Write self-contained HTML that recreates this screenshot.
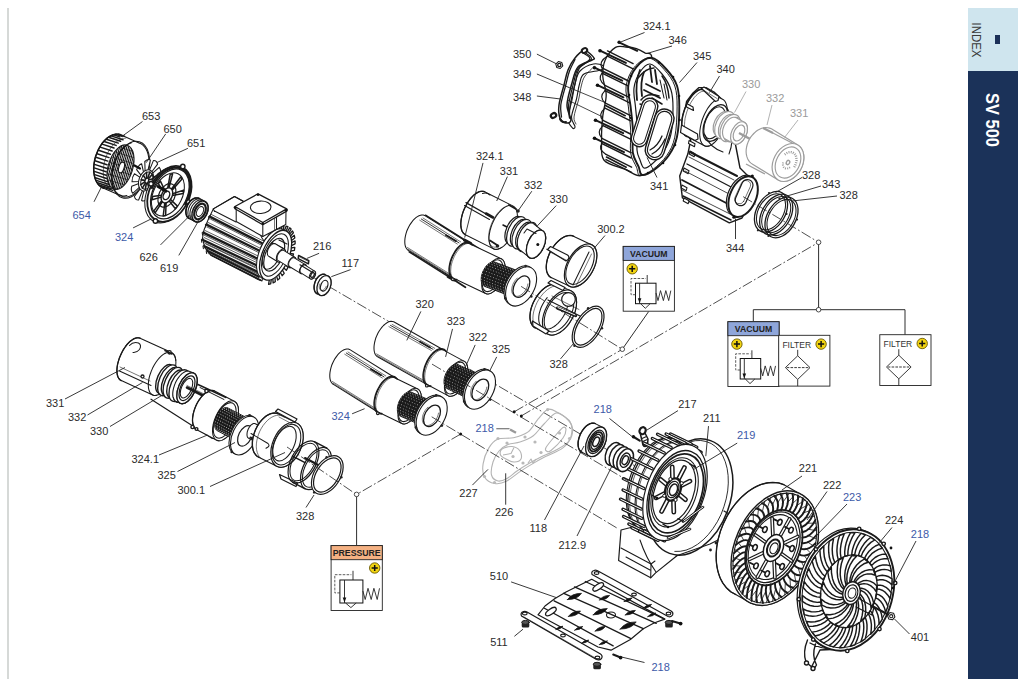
<!DOCTYPE html>
<html><head><meta charset="utf-8"><title>SV 500</title>
<style>
html,body{margin:0;padding:0;background:#fff;}
body{width:1024px;height:689px;overflow:hidden;position:relative;font-family:"Liberation Sans",sans-serif;}
#lb{position:absolute;left:6.5px;top:8px;width:2px;height:671px;background:#d6d9d7;}
#tab{position:absolute;left:968px;top:8px;width:50px;height:63px;background:#cfe5ee;}
#nav{position:absolute;left:968px;top:71px;width:50px;height:607.5px;background:#1b3259;}
svg{position:absolute;left:0;top:0;}
svg text{font-family:"Liberation Sans",sans-serif;}
.k{fill:none;stroke:#1a1a1a;stroke-width:1.05;stroke-linecap:round;stroke-linejoin:round;}
.w{fill:#fff;stroke:#1a1a1a;stroke-width:1.05;stroke-linejoin:round;}
.t{fill:none;stroke:#1a1a1a;stroke-width:0.6;stroke-linecap:round;}
.b{fill:none;stroke:#111;stroke-width:1.5;stroke-linecap:round;stroke-linejoin:round;}
.ld{fill:none;stroke:#222;stroke-width:0.95;}
.g{fill:none;stroke:#9c9c9c;stroke-width:1.15;stroke-linejoin:round;}
.gw{fill:#fff;stroke:#9c9c9c;stroke-width:1.15;stroke-linejoin:round;}
.ax{fill:none;stroke:#222;stroke-width:0.8;stroke-dasharray:10.5 2.4 1.8 2.4;}
.L{font-size:11px;fill:#2b2b2b;}
.B{font-size:11px;fill:#3d5aa8;}
.G{font-size:11px;fill:#9a9a9a;}
</style></head><body>
<div id="lb"></div><div id="tab"></div><div id="nav"></div>
<svg width="1024" height="689" viewBox="0 0 1024 689">
<!-- 00_sidebar.svg -->
<g>
<rect x="995" y="35" width="5" height="9" fill="#1b3058"/>
<text transform="translate(972,22.5) rotate(90)" font-size="13.5" fill="#3a3a3a" textLength="35" lengthAdjust="spacingAndGlyphs">INDEX</text>
<text transform="translate(985.5,93) rotate(90)" font-size="18.5" font-weight="bold" fill="#fff" textLength="54" lengthAdjust="spacingAndGlyphs">SV 500</text>
</g>

<!-- 10_symbols.py -->
<g>
<path class="ld" d="M648.7 311.5L622.3 349.2"/>
<path class="ld" d="M818.6 242.3V309.7M753.3 321.7V309.7H905V334.8"/>
<path class="ld" d="M356.6 494.4V545.6"/>
<rect x="623.2" y="246.4" width="51.2" height="64.8" fill="#fff" stroke="#222" stroke-width="0.9"/><rect x="623.2" y="246.4" width="51.2" height="14.0" fill="#8fa6da" stroke="#222" stroke-width="0.9"/><text x="648.8" y="256.8" font-size="8.8" font-weight="bold" fill="#222" text-anchor="middle" textLength="37.5" lengthAdjust="spacingAndGlyphs">VACUUM</text><circle cx="632.2" cy="268.8" r="5.2" fill="#f2d411" stroke="#6b5a00" stroke-width="0.9"/><path d="M629.1 268.8H635.3M632.2 265.7V271.9" stroke="#111" stroke-width="1.5" fill="none"/><rect x="635.5" y="283.2" width="20.5" height="20.5" fill="#fff" stroke="#111" stroke-width="1"/><path d="M639.6 283.2V303.7" stroke="#222" stroke-width="0.9"/><path d="M637.8 298.2L641.4 298.2L639.6 303.2Z" fill="#111"/><path d="M635.5 294.7H631.0Q631.0 294.7 631.0 291.4V278.5H645.8" fill="none" stroke="#333" stroke-width="0.8" stroke-dasharray="2.6 1.3"/><path d="M647.2 275.0V283.2" stroke="#222" stroke-width="0.9"/><path d="M656.0 293.0L658.0 300.6L660.5 290.6L663.4 300.6L665.8 290.6L668.7 300.6L670.8 290.6" fill="none" stroke="#222" stroke-width="0.9"/><path d="M640.6 303.7L645.3 308.3L650.1 303.7" fill="none" stroke="#222" stroke-width="0.9"/>
<rect x="727.9" y="321.7" width="51.2" height="64.8" fill="#fff" stroke="#222" stroke-width="0.9"/><rect x="727.9" y="321.7" width="51.2" height="14.0" fill="#8fa6da" stroke="#222" stroke-width="0.9"/><text x="753.5" y="332.1" font-size="8.8" font-weight="bold" fill="#222" text-anchor="middle" textLength="37.5" lengthAdjust="spacingAndGlyphs">VACUUM</text><circle cx="736.9" cy="344.1" r="5.2" fill="#f2d411" stroke="#6b5a00" stroke-width="0.9"/><path d="M733.8 344.1H740.0M736.9 341.0V347.2" stroke="#111" stroke-width="1.5" fill="none"/><rect x="740.2" y="358.5" width="20.5" height="20.5" fill="#fff" stroke="#111" stroke-width="1"/><path d="M744.3 358.5V379.0" stroke="#222" stroke-width="0.9"/><path d="M742.5 373.5L746.1 373.5L744.3 378.5Z" fill="#111"/><path d="M740.2 370.0H735.7Q735.7 370.0 735.7 366.7V353.8H750.4" fill="none" stroke="#333" stroke-width="0.8" stroke-dasharray="2.6 1.3"/><path d="M751.9 350.3V358.5" stroke="#222" stroke-width="0.9"/><path d="M760.7 368.3L762.7 375.9L765.2 365.9L768.1 375.9L770.5 365.9L773.4 375.9L775.5 365.9" fill="none" stroke="#222" stroke-width="0.9"/><path d="M745.3 379.0L750.0 383.6L754.8 379.0" fill="none" stroke="#222" stroke-width="0.9"/>
<rect x="778.7" y="335.3" width="51.2" height="50.8" fill="#fff" stroke="#222" stroke-width="0.9"/><text x="782.4" y="347.8" font-size="9" fill="#333" textLength="28.8" lengthAdjust="spacingAndGlyphs">FILTER</text><circle cx="821.1" cy="344.1" r="5.2" fill="#f2d411" stroke="#6b5a00" stroke-width="0.9"/><path d="M818.0 344.1H824.2M821.1 341.0V347.2" stroke="#111" stroke-width="1.5" fill="none"/><path d="M797.7 349.8V355.8M797.7 379.4V386.1" stroke="#222" stroke-width="0.9"/><path d="M797.7 355.8L810.0 367.6L797.7 379.4L785.4 367.6Z" fill="#fff" stroke="#222" stroke-width="0.9"/><path d="M786.7 367.6H808.7" stroke="#222" stroke-width="0.9" stroke-dasharray="2.6 1.2"/>
<rect x="879.8" y="334.7" width="51.2" height="50.8" fill="#fff" stroke="#222" stroke-width="0.9"/><text x="883.5" y="347.2" font-size="9" fill="#333" textLength="28.8" lengthAdjust="spacingAndGlyphs">FILTER</text><circle cx="922.2" cy="343.5" r="5.2" fill="#f2d411" stroke="#6b5a00" stroke-width="0.9"/><path d="M919.1 343.5H925.3M922.2 340.4V346.6" stroke="#111" stroke-width="1.5" fill="none"/><path d="M898.8 349.2V355.2M898.8 378.8V385.5" stroke="#222" stroke-width="0.9"/><path d="M898.8 355.2L911.1 367.0L898.8 378.8L886.5 367.0Z" fill="#fff" stroke="#222" stroke-width="0.9"/><path d="M887.8 367.0H909.8" stroke="#222" stroke-width="0.9" stroke-dasharray="2.6 1.2"/>
<rect x="331.1" y="545.6" width="51.2" height="64.9" fill="#fff" stroke="#222" stroke-width="0.9"/>
<rect x="331.1" y="545.6" width="51.2" height="14.1" fill="#f4b183" stroke="#222" stroke-width="0.9"/>
<text x="356.7" y="556.2" font-size="9" font-weight="bold" fill="#222" text-anchor="middle" textLength="48" lengthAdjust="spacingAndGlyphs">PRESSURE</text>
<circle cx="374.7" cy="568.0" r="5.2" fill="#f2d411" stroke="#6b5a00" stroke-width="0.9"/><path d="M371.6 568.0H377.8M374.7 564.9V571.1" stroke="#111" stroke-width="1.5" fill="none"/>
<rect x="339.9" y="580.0" width="23.0" height="23.0" fill="#fff" stroke="#111" stroke-width="1"/><path d="M344.5 580.0V603.0" stroke="#222" stroke-width="0.9"/><path d="M342.7 597.5L346.3 597.5L344.5 602.5Z" fill="#111"/><path d="M339.9 592.9H334.8Q334.8 592.9 334.8 589.2V574.7H351.4" fill="none" stroke="#333" stroke-width="0.8" stroke-dasharray="2.6 1.3"/><path d="M353.0 570.8V580.0" stroke="#222" stroke-width="0.9"/><path d="M362.9 591.0L365.2 599.5L368.0 588.3L371.2 599.5L373.9 588.3L377.2 599.5L379.5 588.3" fill="none" stroke="#222" stroke-width="0.9"/><path d="M345.6 603.0L350.9 607.6L356.2 603.0" fill="none" stroke="#222" stroke-width="0.9"/>
<circle cx="622.3" cy="349.2" r="2.3" fill="#fff" stroke="#222" stroke-width="0.8"/><circle cx="818.6" cy="242.3" r="2.3" fill="#fff" stroke="#222" stroke-width="0.8"/><circle cx="818.6" cy="309.7" r="2.3" fill="#fff" stroke="#222" stroke-width="0.8"/><circle cx="356.6" cy="494.4" r="2.3" fill="#fff" stroke="#222" stroke-width="0.8"/>
</g>
<!-- 15_axes.py -->
<g>
<path class="ax" d="M313.0 277.2L393.0 324.0"/>
<path class="ax" d="M469.5 369.1L583.0 435.6"/>
<path class="ax" d="M604.0 447.8L616.0 454.8"/>
<path class="ax" d="M633.0 464.8L650.0 474.8"/>
<path class="ax" d="M700.0 504.0L760.0 539.2"/>
<path class="ax" d="M790.0 556.7L846.0 589.5"/>
<path class="ax" d="M546.0 249.0L562.0 257.0"/>
<path class="ax" d="M514.2 411.8L620.4 350.4"/>
<path class="ax" d="M521.3 415.9L816.6 243.5"/>
<path class="ax" d="M460.6 434.1L358.6 493.3"/>
</g>
<!-- 20_fan.py -->
<g>
<path class="w" d="M120.1 134.6L117.9 134.2L115.6 134.2L113.2 134.8L110.9 135.7L108.5 137.1L106.2 139.0L104.0 141.2L101.9 143.7L100.0 146.6L98.3 149.7L96.9 153.0L95.6 156.4L94.7 160.0L94.1 163.5L93.7 167.1L93.7 170.5L94.0 173.8L94.6 176.8L95.5 179.6L96.7 182.1L98.1 184.2L99.8 186.0L101.7 187.3L103.7 188.2L122.6 196.5L124.8 196.9L127.1 196.9L129.5 196.3L131.8 195.4L134.2 194.0L136.5 192.1L138.7 189.9L140.8 187.4L142.7 184.5L144.4 181.4L145.8 178.1L147.1 174.7L148.0 171.1L148.6 167.6L149.0 164.0L149.0 160.6L148.7 157.3L148.1 154.3L147.2 151.5L146.0 149.0L144.6 146.9L142.9 145.1L141.0 143.8L139.0 142.9Z" />
<path class="b" d="M120.1 134.6L117.7 134.2L115.2 134.3L112.6 135.0L110.0 136.2L107.4 137.9L105.0 140.1L102.6 142.7L100.5 145.8L98.6 149.1L97.0 152.7L95.6 156.4L94.6 160.3L94.0 164.2L93.7 168.0L93.8 171.7L94.3 175.2L95.1 178.4L96.2 181.2L97.7 183.7L99.5 185.7L101.5 187.2L103.7 188.2" />
<path class="k" d="M118.2 134.2L124.4 136.3" style="stroke-width:1.5"/>
<path class="k" d="M115.9 134.3L122.1 136.4" style="stroke-width:1.5"/>
<path class="k" d="M113.5 134.8L119.7 136.9" style="stroke-width:1.5"/>
<path class="k" d="M111.1 135.9L123.0 139.8" style="stroke-width:1.5"/>
<path class="k" d="M108.7 137.3L120.6 141.2" style="stroke-width:1.5"/>
<path class="k" d="M106.4 139.2L118.3 143.1" style="stroke-width:1.5"/>
<path class="k" d="M104.2 141.5L116.1 145.4" style="stroke-width:1.5"/>
<path class="k" d="M102.1 144.1L114.0 148.0" style="stroke-width:1.5"/>
<path class="k" d="M100.2 147.1L112.1 151.0" style="stroke-width:1.5"/>
<path class="k" d="M98.5 150.3L110.4 154.2" style="stroke-width:1.5"/>
<path class="k" d="M97.1 153.7L109.0 157.6" style="stroke-width:1.5"/>
<path class="k" d="M95.9 157.2L107.8 161.1" style="stroke-width:1.5"/>
<path class="k" d="M95.0 160.8L107.0 164.7" style="stroke-width:1.5"/>
<path class="k" d="M94.5 164.4L106.4 168.3" style="stroke-width:1.5"/>
<path class="k" d="M94.2 167.9L106.1 171.8" style="stroke-width:1.5"/>
<path class="k" d="M94.3 171.4L106.2 175.3" style="stroke-width:1.5"/>
<path class="k" d="M94.7 174.6L106.6 178.5" style="stroke-width:1.5"/>
<path class="k" d="M95.3 177.7L107.3 181.6" style="stroke-width:1.5"/>
<path class="k" d="M96.3 180.4L108.3 184.3" style="stroke-width:1.5"/>
<path class="k" d="M97.6 182.8L109.5 186.7" style="stroke-width:1.5"/>
<path class="k" d="M99.1 184.9L111.1 188.8" style="stroke-width:1.5"/>
<path class="k" d="M100.9 186.5L112.8 190.4" style="stroke-width:1.5"/>
<path class="t" d="M125.9 138.1L123.5 138.4L121.1 139.1L118.6 140.3L116.2 142.0L113.9 144.1L111.7 146.6L109.7 149.5L107.9 152.6L106.4 156.0L105.1 159.6L104.2 163.2L103.6 166.9L103.3 170.5L103.3 174.0L103.7 177.3L104.5 180.4L105.5 183.1L106.9 185.5L108.5 187.5L110.4 189.0" />
<ellipse class="k" cx="130.8" cy="169.7" rx="29.3" ry="17.6" transform="rotate(-73.0 130.8 169.7)" />
<path class="k" d="M131.5 142.8L129.0 143.7L126.5 145.1L124.1 147.1L121.8 149.4L119.6 152.2L117.6 155.4L115.9 158.8L114.4 162.4L113.2 166.1L112.4 170.0L111.9 173.8L111.7 177.5L111.9 181.0L112.5 184.3L113.4 187.3L114.6 190.0L116.1 192.2L117.9 193.9L119.9 195.1L122.1 195.8L124.5 196.0L126.9 195.6" />
<clipPath id="fcg"><ellipse cx="120.5" cy="167.2" rx="23" ry="12.3" transform="rotate(-73 120.5 167.2)"/></clipPath>
<g clip-path="url(#fcg)"><path d="M96.0 195.0L112.0 135.0M97.8 195.0L113.8 135.0M99.6 195.0L115.6 135.0M101.4 195.0L117.4 135.0M103.2 195.0L119.2 135.0M105.0 195.0L121.0 135.0M106.8 195.0L122.8 135.0M108.6 195.0L124.6 135.0M110.4 195.0L126.4 135.0M112.2 195.0L128.2 135.0M114.0 195.0L130.0 135.0M115.8 195.0L131.8 135.0M117.6 195.0L133.6 135.0M119.4 195.0L135.4 135.0M121.2 195.0L137.2 135.0M123.0 195.0L139.0 135.0M124.8 195.0L140.8 135.0M126.6 195.0L142.6 135.0M128.4 195.0L144.4 135.0M130.2 195.0L146.2 135.0M132.0 195.0L148.0 135.0M133.8 195.0L149.8 135.0M135.6 195.0L151.6 135.0M137.4 195.0L153.4 135.0M139.2 195.0L155.2 135.0M141.0 195.0L157.0 135.0M142.8 195.0L158.8 135.0M144.6 195.0L160.6 135.0M146.4 195.0L162.4 135.0M148.2 195.0L164.2 135.0" stroke="#111" stroke-width="1.05" fill="none"/>
<path d="M95.0 140.0L145.0 155.0M95.0 146.0L145.0 161.0M95.0 152.0L145.0 167.0M95.0 158.0L145.0 173.0M95.0 164.0L145.0 179.0M95.0 170.0L145.0 185.0M95.0 176.0L145.0 191.0M95.0 182.0L145.0 197.0M95.0 188.0L145.0 203.0M95.0 194.0L145.0 209.0" stroke="#111" stroke-width="0.6" fill="none"/></g>
<ellipse class="k" cx="120.5" cy="167.2" rx="23.0" ry="12.3" transform="rotate(-73.0 120.5 167.2)" />
<ellipse class="w" cx="121.5" cy="167.5" rx="5.5" ry="2.6" transform="rotate(-73.0 121.5 167.5)" />
<path class="w" d="M149.4 170.4L153.4 160.6Q156.7 160.3 157.6 164.1L151.6 172.0Z" />
<path class="w" d="M152.4 173.4L159.2 167.3Q161.4 169.8 160.3 174.3L153.1 177.0Z" />
<path class="w" d="M153.0 179.0L160.0 178.8Q160.2 183.3 157.6 186.9L151.8 183.2Z" />
<path class="w" d="M150.9 185.2L155.4 191.0Q153.5 195.7 150.4 196.9L148.4 188.3Z" />
<path class="w" d="M146.9 189.4L147.2 199.1Q144.0 202.1 141.6 200.5L144.0 190.4Z" />
<path class="w" d="M142.6 190.2L138.6 200.0Q135.3 200.3 134.4 196.5L140.4 188.6Z" />
<path class="w" d="M139.6 187.2L132.8 193.3Q130.6 190.8 131.7 186.3L138.9 183.6Z" />
<path class="w" d="M139.0 181.6L132.0 181.8Q131.8 177.3 134.4 173.7L140.2 177.4Z" />
<path class="w" d="M141.1 175.4L136.6 169.6Q138.5 164.9 141.6 163.7L143.6 172.3Z" />
<path class="w" d="M145.1 171.2L144.8 161.5Q148.0 158.5 150.4 160.1L148.0 170.2Z" />
<ellipse class="w" cx="146.0" cy="180.3" rx="11.0" ry="7.0" transform="rotate(-70.0 146.0 180.3)" />
<ellipse class="k" cx="146.8" cy="180.6" rx="9.0" ry="5.6" transform="rotate(-70.0 146.8 180.6)" />
<path class="k" d="M147.7 178.3L149.9 172.1" style="stroke-width:1.6"/>
<path class="k" d="M148.3 178.9L152.2 174.5" style="stroke-width:1.6"/>
<path class="k" d="M148.5 180.1L152.9 178.8" style="stroke-width:1.6"/>
<path class="k" d="M148.2 181.5L151.6 183.7" style="stroke-width:1.6"/>
<path class="k" d="M147.4 182.6L148.8 187.6" style="stroke-width:1.6"/>
<path class="k" d="M146.4 183.0L145.3 189.3" style="stroke-width:1.6"/>
<path class="k" d="M145.6 182.7L142.4 188.2" style="stroke-width:1.6"/>
<path class="k" d="M145.1 181.7L140.8 184.7" style="stroke-width:1.6"/>
<path class="k" d="M145.2 180.4L141.2 179.9" style="stroke-width:1.6"/>
<path class="k" d="M145.8 179.1L143.3 175.3" style="stroke-width:1.6"/>
<path class="k" d="M146.7 178.3L146.5 172.4" style="stroke-width:1.6"/>
<ellipse class="w" cx="146.8" cy="180.6" rx="2.5" ry="1.6" transform="rotate(-70.0 146.8 180.6)" />
<path class="b" d="M134.5 165.5L140.0 168.5" style="stroke-width:2.2"/>
<ellipse class="w" cx="166.9" cy="194.9" rx="29.5" ry="20.0" transform="rotate(-64.0 166.9 194.9)" />
<ellipse class="w" cx="169.4" cy="193.9" rx="29.5" ry="20.0" transform="rotate(-64.0 169.4 193.9)" style="stroke-width:1.8"/>
<path class="k" d="M151.9 188.0L153.6 184.3L155.7 180.9L158.0 177.7L160.6 174.9L163.4 172.4L166.3 170.4L169.3 168.9L172.3 167.9L175.2 167.5L178.0 167.6L180.6 168.2L183.0 169.4L185.2 171.1L187.0 173.2L188.4 175.8L189.5 178.8L190.1 182.0L190.3 185.6L190.1 189.3L189.5 193.1L188.4 196.9L187.0 200.6L185.2 204.2" style="stroke-width:2.2"/>
<ellipse class="k" cx="169.9" cy="193.9" rx="26.5" ry="17.2" transform="rotate(-64.0 169.9 193.9)" style="stroke-width:1.3"/>
<ellipse class="k" cx="167.9" cy="194.4" rx="23.0" ry="14.5" transform="rotate(-64.0 167.9 194.4)" />
<circle cx="182.8" cy="166.5" r="2.2" class="w" style="stroke-width:1.4"/>
<circle cx="188.7" cy="202.1" r="2.2" class="w" style="stroke-width:1.4"/>
<circle cx="155.4" cy="221.0" r="2.2" class="w" style="stroke-width:1.4"/>
<circle cx="151.0" cy="183.7" r="2.2" class="w" style="stroke-width:1.4"/>
<path class="k" d="M171.5 189.0L180.7 177.0L182.0 178.9L172.1 190.2" style="stroke-width:1.5"/>
<path class="k" d="M172.5 193.7L183.7 190.1L183.2 193.4L172.2 195.5" style="stroke-width:1.5"/>
<path class="k" d="M170.3 199.4L177.5 206.1L175.4 208.7L169.1 200.8" style="stroke-width:1.5"/>
<path class="k" d="M166.1 202.7L165.6 215.5L163.2 216.0L164.8 202.9" style="stroke-width:1.5"/>
<path class="k" d="M162.3 201.8L155.1 212.8L153.8 210.9L161.7 200.6" style="stroke-width:1.5"/>
<path class="k" d="M161.3 197.1L152.1 199.7L152.6 196.4L161.6 195.3" style="stroke-width:1.5"/>
<path class="k" d="M163.5 191.4L158.3 183.7L160.4 181.1L164.7 190.0" style="stroke-width:1.5"/>
<path class="k" d="M167.7 188.1L170.2 174.3L172.6 173.8L169.0 187.9" style="stroke-width:1.5"/>
<ellipse class="k" cx="166.9" cy="195.4" rx="12.5" ry="8.0" transform="rotate(-64.0 166.9 195.4)" style="stroke-width:1.2"/>
<ellipse class="w" cx="166.9" cy="195.4" rx="8.0" ry="5.2" transform="rotate(-64.0 166.9 195.4)" style="stroke-width:1.4"/>
<ellipse class="k" cx="166.4" cy="195.4" rx="4.5" ry="3.0" transform="rotate(-64.0 166.4 195.4)" style="stroke-width:1.4"/>
<path class="b" d="M158.0 186.5L166.0 191.0" style="stroke-width:3"/>
<path class="w" d="M198.9 198.3L198.0 198.0L197.1 197.9L196.1 197.9L195.0 198.1L194.0 198.5L192.9 199.1L191.9 199.8L190.9 200.6L189.9 201.6L189.0 202.7L188.2 204.0L187.5 205.2L186.9 206.6L186.5 208.0L186.1 209.3L185.9 210.7L185.9 212.0L186.0 213.3L186.2 214.5L186.5 215.5L187.0 216.5L187.6 217.3L188.3 218.0L189.1 218.5L195.1 221.6L196.0 221.9L196.9 222.0L197.9 222.0L199.0 221.8L200.0 221.4L201.1 220.8L202.1 220.1L203.1 219.3L204.1 218.3L205.0 217.2L205.8 215.9L206.5 214.7L207.1 213.3L207.5 211.9L207.9 210.6L208.1 209.2L208.1 207.9L208.0 206.6L207.8 205.4L207.5 204.4L207.0 203.4L206.4 202.6L205.7 201.9L204.9 201.4Z" />
<path class="b" d="M198.9 198.3L197.9 198.0L196.9 197.9L195.8 197.9L194.6 198.2L193.5 198.7L192.3 199.4L191.2 200.3L190.2 201.3L189.2 202.5L188.3 203.8L187.5 205.2L186.9 206.7L186.4 208.2L186.1 209.7L185.9 211.2L185.9 212.6L186.1 213.9L186.4 215.2L186.8 216.2L187.5 217.2L188.2 217.9L189.1 218.5" />
<path class="k" d="M200.9 199.3L199.9 199.0L198.9 198.9L197.8 198.9L196.6 199.2L195.5 199.7L194.3 200.4L193.2 201.3L192.2 202.3L191.2 203.5L190.3 204.8L189.5 206.2L188.9 207.7L188.4 209.2L188.1 210.7L187.9 212.2L187.9 213.6L188.1 214.9L188.4 216.2L188.8 217.2L189.5 218.2L190.2 218.9L191.1 219.5" />
<path class="k" d="M202.9 200.3L201.9 200.0L200.9 199.9L199.8 199.9L198.6 200.2L197.5 200.7L196.3 201.4L195.2 202.3L194.2 203.3L193.2 204.5L192.3 205.8L191.5 207.2L190.9 208.7L190.4 210.2L190.1 211.7L189.9 213.2L189.9 214.6L190.1 215.9L190.4 217.2L190.8 218.2L191.5 219.2L192.2 219.9L193.1 220.5" />
<ellipse class="w" cx="200.0" cy="211.5" rx="11.2" ry="7.2" transform="rotate(-64.0 200.0 211.5)" style="stroke-width:1.6"/>
<ellipse class="k" cx="200.0" cy="211.5" rx="8.3" ry="5.1" transform="rotate(-64.0 200.0 211.5)" style="stroke-width:2.2"/>
<ellipse class="k" cx="200.0" cy="211.5" rx="5.2" ry="3.1" transform="rotate(-64.0 200.0 211.5)" />
</g>
<!-- 21_motor.py -->
<g>
<path class="w" d="M213.3 208.9L234.5 196.5L243.0 201.0L262.0 238.0L268.0 247.0L262.0 281.0L258.0 279.5L211.0 255.2L204.5 247.0L202.5 238.0L204.0 230.0L208.0 220.0Z" />
<path class="k" d="M213.3 208.9L234.5 196.5L243.5 201.5" />
<path class="k" d="M214.5 211L236 222" />
<path class="k" d="M213.3 208.9L214.5 211.5" />
<path class="k" d="M210.2 216.9L263.6 244.0" style="stroke-width:2.3"/>
<path class="t" d="M211.4 214.5L264.2 241.4" style="stroke-width:0.7"/>
<path class="t" d="M210.6 219.2L263.6 246.2" style="stroke-width:0.7"/>
<path class="k" d="M207.0 224.9L262.0 252.0" style="stroke-width:2.3"/>
<path class="t" d="M208.2 222.5L262.6 249.4" style="stroke-width:0.7"/>
<path class="t" d="M207.4 227.2L262.0 254.2" style="stroke-width:0.7"/>
<path class="k" d="M203.8 232.9L260.4 260.0" style="stroke-width:2.3"/>
<path class="t" d="M205.0 230.5L261.0 257.4" style="stroke-width:0.7"/>
<path class="t" d="M204.2 235.2L260.4 262.2" style="stroke-width:0.7"/>
<path class="k" d="M203.0 240.0L258.8 266.4" style="stroke-width:2.3"/>
<path class="t" d="M204.2 237.6L259.4 263.8" style="stroke-width:0.7"/>
<path class="t" d="M203.4 242.3L258.8 268.6" style="stroke-width:0.7"/>
<path class="k" d="M204.6 246.4L258.0 272.0" style="stroke-width:2.3"/>
<path class="t" d="M205.8 244.0L258.6 269.4" style="stroke-width:0.7"/>
<path class="t" d="M205.0 248.7L258.0 274.2" style="stroke-width:0.7"/>
<path class="k" d="M207.8 251.2L258.8 276.7" style="stroke-width:2.3"/>
<path class="t" d="M209.0 248.8L259.4 274.1" style="stroke-width:0.7"/>
<path class="t" d="M208.2 253.5L258.8 278.9" style="stroke-width:0.7"/>
<path class="k" d="M211.0 255.2L260.4 280.0" style="stroke-width:1.4"/>
<path class="k" d="M210.2 215.4l-1.6 1.2l0.4 2.6" />
<path class="k" d="M207.0 223.4l-1.6 1.2l0.4 2.6" />
<path class="k" d="M203.8 231.4l-1.6 1.2l0.4 2.6" />
<path class="k" d="M203.0 238.5l-1.6 1.2l0.4 2.6" />
<path class="k" d="M204.6 244.9l-1.6 1.2l0.4 2.6" />
<path class="k" d="M207.8 249.7l-1.6 1.2l0.4 2.6" />
<path class="w" d="M264.4 249.4L261.0 247.3L262.5 244.2L265.9 246.2" style="stroke-width:1.3"/>
<path class="w" d="M267.1 244.2L264.4 240.9L266.2 238.2L269.0 241.3" style="stroke-width:1.3"/>
<path class="w" d="M270.3 239.5L268.4 235.4L270.5 233.1L272.4 237.1" style="stroke-width:1.3"/>
<path class="w" d="M273.8 235.7L272.9 230.9L275.0 229.2L276.0 234.0" style="stroke-width:1.3"/>
<path class="w" d="M277.5 233.0L277.5 227.8L279.6 226.8L279.6 232.0" style="stroke-width:1.3"/>
<path class="w" d="M281.0 231.5L282.0 226.2L284.0 226.0L282.9 231.2" style="stroke-width:1.3"/>
<path class="w" d="M284.2 231.3L286.1 226.2L287.9 226.7L285.8 231.9" style="stroke-width:1.3"/>
<path class="w" d="M286.9 232.5L289.7 227.8L291.1 229.1L288.2 233.8" style="stroke-width:1.3"/>
<path class="w" d="M289.0 234.9L292.4 230.9L293.4 232.8L289.9 236.8" style="stroke-width:1.3"/>
<path class="w" d="M290.4 238.4L294.3 235.3L294.8 237.9L290.8 240.9" style="stroke-width:1.3"/>
<path class="w" d="M290.9 242.8L295.1 240.9L295.1 243.8L290.8 245.8" style="stroke-width:1.3"/>
<path class="w" d="M290.6 248.0L294.8 247.3L294.4 250.4L290.1 251.2" style="stroke-width:1.3"/>
<path class="w" d="M289.5 253.5L293.5 254.0L292.5 257.3L288.5 256.9" style="stroke-width:1.3"/>
<path class="w" d="M287.6 259.1L291.2 260.9L289.8 264.1L286.2 262.4" style="stroke-width:1.3"/>
<path class="w" d="M285.1 264.5L288.0 267.4L286.3 270.3L283.3 267.5" style="stroke-width:1.3"/>
<path class="w" d="M282.0 269.4L284.2 273.3L282.2 275.7L280.0 272.0" style="stroke-width:1.3"/>
<path class="w" d="M278.5 273.5L279.8 278.2L277.7 280.0L276.4 275.5" style="stroke-width:1.3"/>
<path class="w" d="M274.9 276.6L275.3 281.7L273.1 282.9L272.8 277.9" style="stroke-width:1.3"/>
<path class="w" d="M271.4 278.5L270.7 283.9L268.6 284.3L269.4 279.1" style="stroke-width:1.3"/>
<ellipse class="w" cx="272.6" cy="253.8" rx="26.5" ry="13.3" transform="rotate(-66.8 272.6 253.8)" />
<ellipse class="w" cx="275.6" cy="255.2" rx="26.5" ry="13.3" transform="rotate(-66.8 275.6 255.2)" style="stroke-width:1.3"/>
<ellipse class="k" cx="275.0" cy="255.0" rx="22.5" ry="11.0" transform="rotate(-66.8 275.0 255.0)" />
<ellipse class="k" cx="274.2" cy="254.7" rx="17.5" ry="8.6" transform="rotate(-66.8 274.2 254.7)" style="stroke-width:1.2"/>
<path class="k" d="M279.5 256.9L278.5 259.0L277.3 261.0L276.1 262.9L274.8 264.6L273.4 266.0L272.0 267.2L270.6 268.2L269.2 268.8L267.9 269.1L266.7 269.2L265.6 268.9L264.6 268.3L263.8 267.4L263.1 266.2L262.7 264.8L262.4 263.1L262.3 261.2L262.4 259.2L262.7 257.1L263.2 254.9L263.9 252.7L264.7 250.5" />
<path class="k" d="M272.0 243.0L283.0 248.5" style="stroke-width:1.6"/>
<path class="k" d="M279.0 240.0L287.0 244.0" style="stroke-width:1.2"/>
<path class="w" d="M236.2 208.0L236.2 221.5L262.8 236.5L285.8 224.5L286.0 210.0L262.8 224.0Z" />
<path class="k" d="M262.8 224.0L262.8 236.5" />
<path class="k" d="M276.5 217.5L276.5 229.5" />
<path class="t" d="M274.5 218.5L274.5 230.5" />
<path class="w" d="M234.9 208.7L258.0 196.0L286.7 211.1L262.8 224.7Z" style="stroke-width:1.3"/>
<path class="w" d="M234.9 206.5L258.0 193.8L286.7 208.9L262.8 222.5Z" style="stroke-width:1.3"/>
<circle cx="234.9" cy="207.5" r="1.2" fill="#111"/>
<circle cx="258.0" cy="194.8" r="1.2" fill="#111"/>
<circle cx="286.7" cy="209.9" r="1.2" fill="#111"/>
<circle cx="262.8" cy="223.5" r="1.2" fill="#111"/>
<ellipse class="k" cx="260.7" cy="207.3" rx="10.3" ry="6.2" transform="rotate(-3.0 260.7 207.3)" />
<path class="w" d="M275.3 243.8L274.8 243.6L274.3 243.6L273.8 243.6L273.2 243.8L272.6 244.0L272.0 244.4L271.3 244.8L270.7 245.4L270.2 246.0L269.6 246.7L269.1 247.4L268.6 248.2L268.2 249.0L267.9 249.9L267.6 250.7L267.5 251.5L267.3 252.3L267.3 253.1L267.4 253.8L267.5 254.5L267.7 255.0L268.0 255.5L268.3 255.9L268.7 256.2L277.7 261.7L278.2 261.9L278.7 261.9L279.2 261.9L279.8 261.7L280.4 261.5L281.0 261.1L281.7 260.7L282.3 260.1L282.8 259.5L283.4 258.8L283.9 258.1L284.4 257.3L284.8 256.5L285.1 255.6L285.4 254.8L285.5 254.0L285.7 253.2L285.7 252.4L285.6 251.7L285.5 251.0L285.3 250.5L285.0 250.0L284.7 249.6L284.3 249.3Z" /><ellipse class="w" cx="281.0" cy="255.5" rx="7.0" ry="3.8" transform="rotate(-62.0 281.0 255.5)" />
<path class="w" d="M283.7 250.4L283.3 250.2L282.9 250.2L282.4 250.2L281.9 250.3L281.4 250.5L280.9 250.8L280.4 251.2L279.9 251.6L279.4 252.2L279.0 252.7L278.6 253.3L278.2 254.0L277.8 254.7L277.6 255.4L277.3 256.1L277.2 256.8L277.1 257.4L277.1 258.1L277.1 258.6L277.2 259.2L277.4 259.7L277.6 260.1L277.9 260.4L278.3 260.6L289.3 267.4L289.7 267.6L290.1 267.6L290.6 267.6L291.1 267.5L291.6 267.3L292.1 267.0L292.6 266.6L293.1 266.2L293.6 265.6L294.0 265.1L294.4 264.5L294.8 263.8L295.2 263.1L295.4 262.4L295.7 261.7L295.8 261.0L295.9 260.4L295.9 259.7L295.9 259.2L295.8 258.6L295.6 258.1L295.4 257.7L295.1 257.4L294.7 257.2Z" /><ellipse class="w" cx="292.0" cy="262.3" rx="5.8" ry="3.2" transform="rotate(-62.0 292.0 262.3)" />
<path class="w" d="M294.3 257.9L294.0 257.8L293.6 257.7L293.2 257.7L292.8 257.8L292.4 258.0L291.9 258.2L291.5 258.6L291.0 259.0L290.6 259.4L290.2 259.9L289.9 260.4L289.5 261.0L289.2 261.6L289.0 262.2L288.8 262.8L288.7 263.4L288.6 263.9L288.6 264.5L288.6 265.0L288.7 265.5L288.9 265.9L289.1 266.2L289.4 266.5L289.7 266.7L300.7 273.4L301.0 273.5L301.4 273.6L301.8 273.6L302.2 273.5L302.6 273.3L303.1 273.1L303.5 272.7L304.0 272.3L304.4 271.9L304.8 271.4L305.1 270.9L305.5 270.3L305.8 269.7L306.0 269.1L306.2 268.5L306.3 267.9L306.4 267.4L306.4 266.8L306.4 266.3L306.3 265.8L306.1 265.4L305.9 265.1L305.6 264.8L305.3 264.6Z" /><ellipse class="w" cx="303.0" cy="269.0" rx="5.0" ry="2.8" transform="rotate(-62.0 303.0 269.0)" />
<path class="w" d="M305.1 265.1L304.8 265.0L304.4 264.9L304.1 265.0L303.7 265.0L303.3 265.2L302.9 265.4L302.5 265.7L302.1 266.0L301.8 266.4L301.4 266.9L301.1 267.3L300.8 267.8L300.5 268.3L300.3 268.9L300.2 269.4L300.1 269.9L300.0 270.4L300.0 270.9L300.0 271.4L300.1 271.8L300.2 272.1L300.4 272.4L300.7 272.7L300.9 272.9L310.4 278.9L310.7 279.0L311.1 279.1L311.4 279.0L311.8 279.0L312.2 278.8L312.6 278.6L313.0 278.3L313.4 278.0L313.7 277.6L314.1 277.1L314.4 276.7L314.7 276.2L315.0 275.7L315.2 275.1L315.3 274.6L315.4 274.1L315.5 273.6L315.5 273.1L315.5 272.6L315.4 272.2L315.3 271.9L315.1 271.6L314.8 271.3L314.6 271.1Z" /><ellipse class="w" cx="312.5" cy="275.0" rx="4.4" ry="2.5" transform="rotate(-62.0 312.5 275.0)" />
<ellipse class="k" cx="312.5" cy="275.0" rx="2.6" ry="1.5" transform="rotate(-62.0 312.5 275.0)" style="stroke-width:1.3"/>
<path class="k" d="M300.0 264.8L311.0 271.6" style="stroke-width:1.2"/>
<path class="w" d="M298.6 255.4L308.8 260.6L308.4 263.8L298.2 258.6Z" style="stroke-width:1.5"/>
<path class="t" d="M299.6 256.9L307.6 261" />
<path class="w" d="M324.9 274.5L324.1 274.3L323.2 274.2L322.3 274.3L321.4 274.6L320.5 275.1L319.5 275.7L318.7 276.4L317.8 277.3L317.0 278.3L316.3 279.4L315.7 280.6L315.1 281.9L314.7 283.2L314.4 284.5L314.2 285.8L314.1 287.0L314.1 288.3L314.3 289.4L314.5 290.5L314.9 291.4L315.4 292.3L316.0 293.0L316.7 293.5L317.5 293.9L320.3 295.3L321.1 295.5L322.0 295.6L322.9 295.5L323.8 295.2L324.7 294.7L325.7 294.1L326.5 293.4L327.4 292.5L328.2 291.5L328.9 290.4L329.5 289.2L330.1 287.9L330.5 286.6L330.8 285.3L331.0 284.0L331.1 282.8L331.1 281.5L330.9 280.4L330.7 279.3L330.3 278.4L329.8 277.5L329.2 276.8L328.5 276.3L327.7 275.9Z" />
<path class="k" d="M324.9 274.5L324.0 274.3L323.1 274.2L322.1 274.4L321.1 274.8L320.0 275.3L319.1 276.1L318.1 277.0L317.2 278.0L316.4 279.2L315.7 280.5L315.1 281.9L314.7 283.3L314.3 284.7L314.1 286.1L314.1 287.5L314.2 288.8L314.4 290.0L314.8 291.1L315.3 292.1L315.9 292.9L316.6 293.5L317.5 293.9" style="stroke-width:1.4"/>
<ellipse class="w" cx="324.0" cy="285.6" rx="10.4" ry="6.5" transform="rotate(-69.0 324.0 285.6)" style="stroke-width:1.3"/>
<ellipse class="k" cx="324.2" cy="285.7" rx="5.6" ry="3.4" transform="rotate(-69.0 324.2 285.7)" style="stroke-width:1.2"/>
<path class="t" d="M326.2 286.3L325.9 287.1L325.5 287.7L325.1 288.4L324.6 289.0L324.1 289.4L323.6 289.8L323.0 290.2L322.5 290.4L322.0 290.5L321.5 290.4L321.0 290.3L320.6 290.1L320.2 289.8L319.9 289.3L319.6 288.8L319.4 288.3L319.3 287.6L319.2 286.9L319.3 286.2L319.4 285.4L319.6 284.6L319.8 283.9" />
</g>
<!-- 29_midasm.py -->
<g>
<path class="w" d="M484.6 191.7L483.1 191.3L481.5 191.3L479.8 191.6L478.0 192.3L476.2 193.3L474.3 194.7L472.5 196.4L470.7 198.4L469.0 200.7L467.3 203.1L465.8 205.8L464.5 208.5L463.3 211.4L462.4 214.2L461.6 217.1L461.1 219.9L460.8 222.6L460.8 225.1L461.0 227.4L461.5 229.5L462.1 231.2L463.0 232.7L464.2 233.9L465.4 234.7L493.6 248.9L495.1 249.3L496.7 249.3L498.4 249.0L500.2 248.3L502.0 247.3L503.9 245.9L505.7 244.2L507.5 242.2L509.2 239.9L510.9 237.5L512.4 234.8L513.7 232.1L514.9 229.2L515.8 226.4L516.6 223.5L517.1 220.7L517.4 218.0L517.4 215.5L517.2 213.2L516.7 211.1L516.1 209.4L515.2 207.9L514.0 206.7L512.8 205.9Z" />
<path class="k" d="M484.6 191.7L483.0 191.3L481.2 191.3L479.3 191.7L477.4 192.6L475.3 193.9L473.3 195.6L471.3 197.7L469.4 200.0L467.6 202.7L466.0 205.5L464.5 208.5L463.2 211.6L462.2 214.8L461.5 217.9L461.0 220.9L460.8 223.7L460.9 226.4L461.3 228.7L461.9 230.8L462.9 232.5L464.0 233.8L465.4 234.7" style="stroke-width:1.3"/>
<path class="k" d="M508.6 205.6L506.6 206.3L504.6 207.4L502.6 208.9L500.6 210.8L498.6 213.0L496.7 215.5L494.9 218.3L493.4 221.3L492.0 224.4L490.9 227.5L490.0 230.7L489.4 233.8L489.0 236.7L489.0 239.5L489.3 242.0L489.8 244.2L490.7 246.1L491.8 247.5L493.1 248.6L494.6 249.2L496.4 249.4L498.2 249.1L500.2 248.3" />
<path class="t" d="M504.7 207.2L502.8 208.2L501.0 209.7L499.1 211.5L497.3 213.6L495.6 216.0L494.1 218.5L492.6 221.3L491.4 224.1L490.4 227.0L489.5 229.9L489.0 232.7L488.7 235.4L488.6 238.0L488.8 240.3L489.3 242.3L490.0 244.0L490.9 245.4L492.1 246.4L493.4 247.0L494.9 247.2L496.6 247.0" />
<path class="k" d="M482.5 193.5q4 -1.5 7.5 1.5" />
<circle cx="518" cy="211" r="1.8" fill="#222"/>
<circle cx="497.5" cy="246" r="1.8" fill="#222"/>
<path class="k" d="M466.0 202.6L491.0 216.8" style="stroke-width:1.3"/>
<path class="k" d="M464.5 205.5L489.5 219.5" />
<path class="k" d="M486.0 213.5L493.0 217.5" style="stroke-width:2.6"/>
<path class="k" d="M509.0 205.0L516.0 209.0" style="stroke-width:1.8"/>
<path class="k" d="M490.0 240.5L497.0 245.0" style="stroke-width:1.8"/>
<path class="k" d="M503.0 225.0L512.0 229.5" style="stroke-width:1.6"/>
<ellipse class="w" cx="514.0" cy="230.0" rx="14.5" ry="7.6" transform="rotate(-66.0 514.0 230.0)" style="stroke-width:1.2"/>
<ellipse class="w" cx="516.6" cy="231.4" rx="15.8" ry="8.4" transform="rotate(-66.0 516.6 231.4)" style="stroke-width:1.2"/>
<ellipse class="w" cx="519.3" cy="232.8" rx="14.3" ry="7.5" transform="rotate(-66.0 519.3 232.8)" style="stroke-width:1.2"/>
<ellipse class="w" cx="521.9" cy="234.2" rx="15.8" ry="8.4" transform="rotate(-66.0 521.9 234.2)" style="stroke-width:1.2"/>
<ellipse class="w" cx="524.6" cy="235.6" rx="14.3" ry="7.5" transform="rotate(-66.0 524.6 235.6)" style="stroke-width:1.2"/>
<ellipse class="w" cx="527.2" cy="237.1" rx="15.8" ry="8.4" transform="rotate(-66.0 527.2 237.1)" style="stroke-width:1.2"/>
<path class="w" d="M533.1 223.3L532.1 223.0L531.0 222.9L529.8 223.1L528.5 223.5L527.3 224.1L526.0 225.0L524.8 226.0L523.6 227.3L522.4 228.7L521.3 230.2L520.4 231.9L519.5 233.7L518.8 235.5L518.2 237.3L517.7 239.2L517.5 241.0L517.3 242.7L517.4 244.3L517.6 245.8L518.0 247.2L518.5 248.4L519.2 249.4L520.0 250.2L520.9 250.7L529.9 257.9L530.9 258.2L532.0 258.3L533.2 258.1L534.5 257.7L535.7 257.1L537.0 256.2L538.2 255.2L539.4 253.9L540.6 252.5L541.7 251.0L542.6 249.3L543.5 247.5L544.2 245.7L544.8 243.9L545.3 242.0L545.5 240.2L545.7 238.5L545.6 236.9L545.4 235.4L545.0 234.0L544.5 232.8L543.8 231.8L543.0 231.0L542.1 230.5Z" /><ellipse class="w" cx="536.0" cy="244.2" rx="15.0" ry="8.2" transform="rotate(-66.0 536.0 244.2)" />
<ellipse class="w" cx="536.0" cy="244.2" rx="15.0" ry="8.2" transform="rotate(-66.0 536.0 244.2)" style="stroke-width:1.3"/>
<path class="k" d="M524 233l3 -4l9 4.5" />
<circle cx="537.8" cy="244.6" r="1.5" fill="#111"/>
<path class="w" d="M573.9 236.4L572.3 235.7L570.6 235.4L568.7 235.5L566.6 235.9L564.5 236.7L562.4 237.9L560.3 239.4L558.2 241.1L556.2 243.2L554.3 245.5L552.5 248.0L551.0 250.6L549.6 253.3L548.4 256.2L547.5 259.0L546.8 261.8L546.4 264.5L546.2 267.1L546.4 269.5L546.8 271.7L547.5 273.6L548.5 275.3L549.6 276.6L551.1 277.6L569.2 286.1L570.8 286.8L572.5 287.1L574.4 287.0L576.5 286.6L578.6 285.8L580.7 284.6L582.8 283.1L584.9 281.4L586.9 279.3L588.8 277.0L590.6 274.5L592.1 271.9L593.5 269.2L594.7 266.3L595.6 263.5L596.3 260.7L596.7 258.0L596.9 255.4L596.7 253.0L596.3 250.8L595.6 248.9L594.6 247.2L593.5 245.9L592.0 244.9Z" />
<path class="k" d="M573.9 236.4L572.2 235.7L570.2 235.4L568.1 235.6L565.9 236.2L563.6 237.2L561.3 238.6L559.0 240.5L556.8 242.6L554.6 245.0L552.7 247.7L551.0 250.6L549.4 253.6L548.2 256.7L547.2 259.8L546.6 262.8L546.3 265.7L546.3 268.4L546.6 270.9L547.3 273.1L548.3 275.0L549.5 276.5L551.1 277.6" style="stroke-width:1.3"/>
<ellipse class="w" cx="580.6" cy="265.5" rx="23.6" ry="13.2" transform="rotate(-61.0 580.6 265.5)" style="stroke-width:1.2"/>
<ellipse class="k" cx="580.0" cy="265.2" rx="21.0" ry="11.4" transform="rotate(-61.0 580.0 265.2)" />
<path class="k" d="M589.0 252.0L573.0 285.0" />
<path class="t" d="M591.5 254.0L576.0 286.0" />
<path class="w" d="M547.5 249.5l3 -3l17 8.5q2.5 2 0.5 4.5l-2 1.5z" style="stroke-width:1.2"/>
<path class="t" d="M550.0 252.0L566.0 260.0" />
<path class="w" d="M558.9 285.1L557.2 284.4L555.3 284.0L553.3 284.1L551.2 284.5L549.0 285.4L546.7 286.5L544.5 288.1L542.3 289.9L540.2 292.0L538.2 294.4L536.4 297.0L534.8 299.7L533.3 302.6L532.1 305.5L531.1 308.4L530.5 311.3L530.1 314.2L529.9 316.9L530.1 319.4L530.6 321.7L531.3 323.7L532.4 325.4L533.6 326.9L535.1 327.9L547.6 333.9L549.3 334.6L551.2 335.0L553.2 334.9L555.3 334.5L557.5 333.6L559.8 332.5L562.0 330.9L564.2 329.1L566.3 327.0L568.3 324.6L570.1 322.0L571.7 319.3L573.2 316.4L574.4 313.5L575.4 310.6L576.0 307.7L576.4 304.8L576.6 302.1L576.4 299.6L575.9 297.3L575.2 295.3L574.1 293.6L572.9 292.1L571.4 291.1Z" />
<path class="k" d="M558.9 285.1L557.0 284.3L554.9 284.0L552.7 284.2L550.4 284.8L548.0 285.9L545.5 287.3L543.1 289.2L540.8 291.4L538.6 294.0L536.6 296.7L534.8 299.7L533.2 302.8L531.9 306.0L530.9 309.2L530.3 312.4L530.0 315.4L530.0 318.2L530.4 320.9L531.1 323.2L532.2 325.1L533.5 326.7L535.1 327.9" style="stroke-width:1.3"/>
<path class="t" d="M562.9 287.2L561.2 286.2L559.2 285.7L557.1 285.5L554.8 285.9L552.4 286.7L550.0 287.9L547.6 289.5L545.2 291.5L542.9 293.9L540.8 296.5L538.8 299.4L537.1 302.4L535.7 305.6L534.5 308.8L533.6 312.0L533.1 315.1L532.9 318.0L533.1 320.8L533.6 323.3L534.5 325.5L535.6 327.3L537.1 328.8" />
<ellipse class="w" cx="559.5" cy="312.5" rx="24.5" ry="14.0" transform="rotate(-61.0 559.5 312.5)" style="stroke-width:1.2"/>
<ellipse class="k" cx="559.0" cy="312.2" rx="21.5" ry="12.0" transform="rotate(-61.0 559.0 312.2)" />
<path class="k" d="M567.8 305.1L567.1 307.9L566.1 310.7L564.9 313.5L563.5 316.2L561.8 318.8L560.0 321.2L558.0 323.3L555.9 325.2L553.8 326.7L551.7 327.9L549.6 328.7L547.6 329.1L545.8 329.1L544.0 328.7L542.5 327.9L541.2 326.8L540.2 325.3L539.4 323.4L538.9 321.3L538.7 318.9L538.8 316.3L539.2 313.6L540.0 310.8L540.9 308.0L542.2 305.2L543.7 302.5L545.4 300.0L547.2 297.6" />
<circle cx="568.5" cy="299.5" r="6.8" class="w" style="stroke-width:1.2"/>
<path class="k" d="M557.4 308.0L575.7 315.7" style="stroke-width:3"/>
<path class="k" d="M558.0 307.6L575.0 314.9" style="stroke-width:1;stroke:#fff"/>
<path class="k" d="M548.0 300.0L584.0 318.0" style="stroke-width:1.2"/>
<path class="t" d="M552.0 296.0L579.0 309.5" />
<path class="w" d="M548 283l3 -2.5l14 7l-2 3z" style="stroke-width:1.2"/>
<path class="w" d="M532.5 321l0.5 5l13 8l3 -3z" style="stroke-width:1.2"/>
<ellipse class="w" cx="588.1" cy="326.8" rx="22.9" ry="12.3" transform="rotate(-58.4 588.1 326.8)" style="stroke-width:1.2"/>
<ellipse class="k" cx="588.1" cy="326.8" rx="20.5" ry="10.3" transform="rotate(-58.4 588.1 326.8)" style="stroke-width:1.2"/>
<circle cx="588.1" cy="308.3" r="1.2" fill="#222"/>
<circle cx="602.0" cy="328.2" r="1.2" fill="#222"/>
<circle cx="574.4" cy="345.7" r="1.2" fill="#222"/>
</g>
<!-- 30_filters.py -->
<g>
<path class="w" d="M424.5 215.4L423.3 215.0L421.9 214.9L420.5 215.2L419.0 215.7L417.4 216.6L415.9 217.7L414.3 219.1L412.8 220.7L411.4 222.6L410.0 224.6L408.8 226.7L407.7 229.0L406.7 231.3L406.0 233.7L405.4 236.1L405.0 238.4L404.8 240.6L404.8 242.6L405.0 244.6L405.4 246.3L406.0 247.8L406.8 249.0L407.7 250.0L408.8 250.6L453.5 278.5L454.7 278.9L456.1 279.0L457.5 278.7L459.0 278.2L460.6 277.3L462.1 276.2L463.7 274.8L465.2 273.2L466.6 271.3L468.0 269.3L469.2 267.2L470.3 264.9L471.3 262.6L472.0 260.2L472.6 257.8L473.0 255.5L473.2 253.3L473.2 251.3L473.0 249.3L472.6 247.6L472.0 246.1L471.2 244.9L470.3 243.9L469.2 243.3Z" />
<path class="k" d="M421.3 219.0L459.0 242.9" style="stroke-width:0.9"/>
<path class="k" d="M419.7 220.2L457.4 244.1" style="stroke-width:0.6"/>
<path class="k" d="M423.0 218.0L460.7 241.9" style="stroke-width:0.6"/>
<path class="t" d="M407.4 247.5L450.1 274.2" />
<path class="t" d="M408.0 249.1L450.7 275.8" />
<path class="k" d="M446.0 235.3L456.0 241.1" style="stroke-width:1.8"/>
<path class="k" d="M425.5 215.2L467.5 241.7" style="stroke-width:1.5"/>
<path class="k" d="M464.5 240.1L470.5 243.3" style="stroke-width:3"/>
<path class="k" d="M470.5 243.3L481.7 250.6" style="stroke-width:1.8"/>
<path class="k" d="M409.1 251.8L451.2 278.3" style="stroke-width:1.5"/>
<path class="k" d="M448.2 276.7L454.2 279.9" style="stroke-width:3"/>
<path class="k" d="M454.2 279.9L465.4 287.2" style="stroke-width:1.8"/>
<path class="w" d="M469.1 243.5L467.9 243.2L466.5 243.1L465.1 243.4L463.7 243.9L462.1 244.8L460.6 245.9L459.1 247.2L457.6 248.8L456.2 250.7L454.9 252.6L453.7 254.8L452.6 257.0L451.6 259.3L450.9 261.6L450.3 263.9L449.9 266.2L449.7 268.4L449.7 270.4L449.9 272.3L450.3 274.0L450.9 275.4L451.6 276.7L452.5 277.6L453.6 278.3L485.6 293.5L486.8 293.8L488.2 293.9L489.6 293.6L491.0 293.1L492.6 292.2L494.1 291.1L495.6 289.8L497.1 288.2L498.5 286.3L499.8 284.4L501.0 282.2L502.1 280.0L503.1 277.7L503.8 275.4L504.4 273.1L504.8 270.8L505.0 268.6L505.0 266.6L504.8 264.7L504.4 263.0L503.8 261.6L503.1 260.3L502.2 259.4L501.1 258.7Z" />
<path class="k" d="M472.2 245.1L471.2 243.9L470.1 242.9L468.7 242.4L467.3 242.2L465.7 242.3L464.0 242.9L462.2 243.8L460.5 245.1L458.7 246.7L457.0 248.5L455.4 250.7L454.0 253.0L452.6 255.5L451.5 258.1L450.5 260.7L449.8 263.4L449.3 266.0L449.0 268.5L449.0 270.8L449.2 273.0L449.7 274.9L450.4 276.5L451.4 277.8L452.5 278.8L453.8 279.4L455.3 279.6L456.9 279.5" style="stroke-width:1.3"/>
<path class="t" d="M472.5 244.7L471.3 243.9L470.0 243.4L468.5 243.3L467.0 243.5L465.3 244.1L463.6 245.0L461.9 246.3L460.2 247.8L458.6 249.7L457.0 251.8L455.6 254.0L454.3 256.4L453.2 259.0L452.3 261.5L451.5 264.1L451.0 266.7L450.8 269.1L450.7 271.4L450.9 273.5L451.4 275.4L452.0 277.0L452.9 278.4L454.0 279.4L455.2 280.0L456.6 280.3" />
<ellipse class="w" cx="493.4" cy="276.1" rx="19.0" ry="9.6" transform="rotate(-66.0 493.4 276.1)" />
<ellipse class="k" cx="492.6" cy="275.7" rx="17.0" ry="8.4" transform="rotate(-66.0 492.6 275.7)" />
<circle cx="452.8" cy="279.3" r="1.3" class="w" style="stroke-width:1.2"/>
<clipPath id="mca"><path d="M495.2 262.2L494.0 261.9L492.8 261.9L491.5 262.1L490.2 262.7L488.8 263.6L487.5 264.7L486.2 266.1L485.0 267.7L484.0 269.4L483.0 271.2L482.3 273.2L481.7 275.1L481.3 277.0L481.2 278.9L481.2 280.7L481.5 282.2L481.9 283.6L482.6 284.8L483.4 285.7L484.4 286.3L513.5 297.3L514.6 297.6L515.9 297.6L517.2 297.4L518.5 296.8L519.9 295.9L521.2 294.8L522.5 293.4L523.7 291.8L524.7 290.1L525.6 288.3L526.4 286.3L527.0 284.4L527.3 282.5L527.5 280.6L527.5 278.8L527.2 277.3L526.7 275.9L526.1 274.7L525.2 273.8L524.3 273.2Z"/></clipPath>
<path d="M495.2 262.2L494.0 261.9L492.8 261.9L491.5 262.1L490.2 262.7L488.8 263.6L487.5 264.7L486.2 266.1L485.0 267.7L484.0 269.4L483.0 271.2L482.3 273.2L481.7 275.1L481.3 277.0L481.2 278.9L481.2 280.7L481.5 282.2L481.9 283.6L482.6 284.8L483.4 285.7L484.4 286.3L513.5 297.3L514.6 297.6L515.9 297.6L517.2 297.4L518.5 296.8L519.9 295.9L521.2 294.8L522.5 293.4L523.7 291.8L524.7 290.1L525.6 288.3L526.4 286.3L527.0 284.4L527.3 282.5L527.5 280.6L527.5 278.8L527.2 277.3L526.7 275.9L526.1 274.7L525.2 273.8L524.3 273.2Z" fill="#1a1a1a" stroke="#111" stroke-width="0.9"/>
<g clip-path="url(#mca)"><path d="M483.3 285.6L512.4 296.6" stroke="#fff" stroke-width="0.6" stroke-dasharray="0.9 2" fill="none"/><path d="M482.1 284.0L511.2 295.0" stroke="#fff" stroke-width="0.6" stroke-dasharray="0.9 2" fill="none"/><path d="M481.4 281.9L510.5 292.9" stroke="#fff" stroke-width="0.6" stroke-dasharray="0.9 2" fill="none"/><path d="M481.2 279.3L510.2 290.3" stroke="#fff" stroke-width="0.6" stroke-dasharray="0.9 2" fill="none"/><path d="M481.4 276.4L510.5 287.4" stroke="#fff" stroke-width="0.6" stroke-dasharray="0.9 2" fill="none"/><path d="M482.2 273.4L511.3 284.4" stroke="#fff" stroke-width="0.6" stroke-dasharray="0.9 2" fill="none"/><path d="M483.4 270.4L512.5 281.4" stroke="#fff" stroke-width="0.6" stroke-dasharray="0.9 2" fill="none"/><path d="M485.0 267.7L514.1 278.7" stroke="#fff" stroke-width="0.6" stroke-dasharray="0.9 2" fill="none"/><path d="M486.9 265.3L516.0 276.3" stroke="#fff" stroke-width="0.6" stroke-dasharray="0.9 2" fill="none"/><path d="M489.0 263.5L518.0 274.5" stroke="#fff" stroke-width="0.6" stroke-dasharray="0.9 2" fill="none"/><path d="M491.1 262.3L520.2 273.3" stroke="#fff" stroke-width="0.6" stroke-dasharray="0.9 2" fill="none"/><path d="M493.1 261.8L522.2 272.8" stroke="#fff" stroke-width="0.6" stroke-dasharray="0.9 2" fill="none"/></g>
<ellipse class="w" cx="519.6" cy="285.5" rx="21.2" ry="13.3" transform="rotate(-61.0 519.6 285.5)" />
<ellipse class="w" cx="521.1" cy="286.4" rx="21.2" ry="13.3" transform="rotate(-61.0 521.1 286.4)" style="stroke-width:1.1"/>
<ellipse class="w" cx="521.4" cy="286.6" rx="11.6" ry="7.2" transform="rotate(-61.0 521.4 286.6)" style="stroke-width:1.3"/>
<path class="t" d="M527.9 283.9L527.6 285.3L527.2 286.8L526.6 288.2L525.8 289.6L525.0 291.0L524.0 292.2L523.0 293.3L521.9 294.2L520.8 295.0L519.6 295.7L518.5 296.1L517.4 296.3L516.3 296.3L515.3 296.2L514.4 295.8L513.6 295.2L512.9 294.5L512.4 293.5L512.0 292.5L511.8 291.3L511.7 290.0L511.8 288.6L512.0 287.2L512.4 285.7L512.9 284.3L513.6 282.9L514.4 281.5L515.3 280.2L516.3 279.1L517.3 278.0" />
<circle cx="525.6" cy="266.1" r="1.3" fill="#222"/>
<circle cx="531.3" cy="296.4" r="1.3" fill="#222"/>
<circle cx="505.3" cy="298.3" r="1.3" fill="#222"/>
<path class="w" d="M393.7 321.8L392.5 321.4L391.1 321.3L389.7 321.6L388.2 322.1L386.6 323.0L385.1 324.1L383.5 325.5L382.0 327.1L380.6 329.0L379.2 331.0L378.0 333.1L376.9 335.4L375.9 337.7L375.2 340.1L374.6 342.5L374.2 344.8L374.0 347.0L374.0 349.0L374.2 351.0L374.6 352.7L375.2 354.2L376.0 355.4L376.9 356.4L378.0 357.0L427.5 384.9L428.7 385.3L430.1 385.4L431.5 385.1L433.0 384.6L434.6 383.7L436.1 382.6L437.7 381.2L439.2 379.6L440.6 377.7L442.0 375.7L443.2 373.6L444.3 371.3L445.3 369.0L446.0 366.6L446.6 364.2L447.0 361.9L447.2 359.7L447.2 357.7L447.0 355.7L446.6 354.0L446.0 352.5L445.2 351.3L444.3 350.3L443.2 349.7Z" />
<path class="k" d="M390.5 325.4L433.0 349.3" style="stroke-width:0.9"/>
<path class="k" d="M388.9 326.6L431.4 350.5" style="stroke-width:0.6"/>
<path class="k" d="M392.2 324.4L434.7 348.3" style="stroke-width:0.6"/>
<path class="t" d="M376.6 353.9L424.1 380.6" />
<path class="t" d="M377.2 355.5L424.7 382.2" />
<path class="k" d="M420.0 341.7L430.0 347.5" style="stroke-width:1.8"/>
<path class="w" d="M443.1 349.9L441.9 349.6L440.5 349.5L439.1 349.8L437.7 350.3L436.1 351.2L434.6 352.3L433.1 353.6L431.6 355.2L430.2 357.1L428.9 359.0L427.7 361.2L426.6 363.4L425.6 365.7L424.9 368.0L424.3 370.3L423.9 372.6L423.7 374.8L423.7 376.8L423.9 378.7L424.3 380.4L424.9 381.8L425.6 383.1L426.5 384.0L427.6 384.7L448.4 395.9L449.6 396.2L451.0 396.3L452.4 396.0L453.8 395.5L455.4 394.6L456.9 393.5L458.4 392.2L459.9 390.6L461.3 388.7L462.6 386.8L463.8 384.6L464.9 382.4L465.9 380.1L466.6 377.8L467.2 375.5L467.6 373.2L467.8 371.0L467.8 369.0L467.6 367.1L467.2 365.4L466.6 364.0L465.9 362.7L465.0 361.8L463.9 361.1Z" />
<path class="k" d="M446.2 351.5L445.2 350.3L444.1 349.3L442.7 348.8L441.3 348.6L439.7 348.7L438.0 349.3L436.2 350.2L434.5 351.5L432.7 353.1L431.0 354.9L429.4 357.1L428.0 359.4L426.6 361.9L425.5 364.5L424.5 367.1L423.8 369.8L423.3 372.4L423.0 374.9L423.0 377.2L423.2 379.4L423.7 381.3L424.4 382.9L425.4 384.2L426.5 385.2L427.8 385.8L429.3 386.0L430.9 385.9" style="stroke-width:1.3"/>
<path class="t" d="M446.5 351.1L445.3 350.3L444.0 349.8L442.5 349.7L441.0 349.9L439.3 350.5L437.6 351.4L435.9 352.7L434.2 354.2L432.6 356.1L431.0 358.2L429.6 360.4L428.3 362.8L427.2 365.4L426.3 367.9L425.5 370.5L425.0 373.1L424.8 375.5L424.7 377.8L424.9 379.9L425.4 381.8L426.0 383.4L426.9 384.8L428.0 385.8L429.2 386.4L430.6 386.7" />
<ellipse class="w" cx="456.1" cy="378.5" rx="19.0" ry="9.6" transform="rotate(-66.0 456.1 378.5)" />
<ellipse class="k" cx="455.3" cy="378.1" rx="17.0" ry="8.4" transform="rotate(-66.0 455.3 378.1)" />
<circle cx="426.8" cy="385.7" r="1.3" class="w" style="stroke-width:1.2"/>
<clipPath id="mcb"><path d="M458.0 364.6L456.8 364.3L455.6 364.3L454.3 364.5L453.0 365.1L451.6 366.0L450.3 367.1L449.0 368.5L447.8 370.1L446.8 371.8L445.8 373.6L445.1 375.6L444.5 377.5L444.1 379.4L444.0 381.3L444.0 383.1L444.3 384.6L444.7 386.0L445.4 387.2L446.2 388.1L447.2 388.7L472.4 400.5L473.5 400.8L474.8 400.8L476.1 400.6L477.4 400.0L478.8 399.1L480.1 398.0L481.4 396.6L482.6 395.0L483.6 393.3L484.5 391.5L485.3 389.5L485.9 387.6L486.2 385.7L486.4 383.8L486.4 382.0L486.1 380.5L485.6 379.1L485.0 377.9L484.1 377.0L483.2 376.4Z"/></clipPath>
<path d="M458.0 364.6L456.8 364.3L455.6 364.3L454.3 364.5L453.0 365.1L451.6 366.0L450.3 367.1L449.0 368.5L447.8 370.1L446.8 371.8L445.8 373.6L445.1 375.6L444.5 377.5L444.1 379.4L444.0 381.3L444.0 383.1L444.3 384.6L444.7 386.0L445.4 387.2L446.2 388.1L447.2 388.7L472.4 400.5L473.5 400.8L474.8 400.8L476.1 400.6L477.4 400.0L478.8 399.1L480.1 398.0L481.4 396.6L482.6 395.0L483.6 393.3L484.5 391.5L485.3 389.5L485.9 387.6L486.2 385.7L486.4 383.8L486.4 382.0L486.1 380.5L485.6 379.1L485.0 377.9L484.1 377.0L483.2 376.4Z" fill="#1a1a1a" stroke="#111" stroke-width="0.9"/>
<g clip-path="url(#mcb)"><path d="M446.1 388.0L471.3 399.8" stroke="#fff" stroke-width="0.6" stroke-dasharray="0.9 2" fill="none"/><path d="M444.9 386.4L470.1 398.2" stroke="#fff" stroke-width="0.6" stroke-dasharray="0.9 2" fill="none"/><path d="M444.2 384.3L469.4 396.1" stroke="#fff" stroke-width="0.6" stroke-dasharray="0.9 2" fill="none"/><path d="M444.0 381.7L469.1 393.5" stroke="#fff" stroke-width="0.6" stroke-dasharray="0.9 2" fill="none"/><path d="M444.2 378.8L469.4 390.6" stroke="#fff" stroke-width="0.6" stroke-dasharray="0.9 2" fill="none"/><path d="M445.0 375.8L470.2 387.6" stroke="#fff" stroke-width="0.6" stroke-dasharray="0.9 2" fill="none"/><path d="M446.2 372.8L471.4 384.6" stroke="#fff" stroke-width="0.6" stroke-dasharray="0.9 2" fill="none"/><path d="M447.8 370.1L473.0 381.9" stroke="#fff" stroke-width="0.6" stroke-dasharray="0.9 2" fill="none"/><path d="M449.7 367.7L474.9 379.5" stroke="#fff" stroke-width="0.6" stroke-dasharray="0.9 2" fill="none"/><path d="M451.8 365.9L476.9 377.7" stroke="#fff" stroke-width="0.6" stroke-dasharray="0.9 2" fill="none"/><path d="M453.9 364.7L479.1 376.5" stroke="#fff" stroke-width="0.6" stroke-dasharray="0.9 2" fill="none"/><path d="M455.9 364.2L481.1 376.0" stroke="#fff" stroke-width="0.6" stroke-dasharray="0.9 2" fill="none"/></g>
<ellipse class="w" cx="478.5" cy="388.7" rx="21.2" ry="13.3" transform="rotate(-61.0 478.5 388.7)" />
<ellipse class="w" cx="480.0" cy="389.6" rx="21.2" ry="13.3" transform="rotate(-61.0 480.0 389.6)" style="stroke-width:1.1"/>
<ellipse class="w" cx="480.3" cy="389.8" rx="11.6" ry="7.2" transform="rotate(-61.0 480.3 389.8)" style="stroke-width:1.3"/>
<path class="t" d="M486.8 387.1L486.5 388.5L486.1 390.0L485.5 391.4L484.7 392.8L483.9 394.2L482.9 395.4L481.9 396.5L480.8 397.4L479.7 398.2L478.5 398.9L477.4 399.3L476.3 399.5L475.2 399.5L474.2 399.4L473.3 399.0L472.5 398.4L471.8 397.7L471.3 396.7L470.9 395.7L470.7 394.5L470.6 393.2L470.7 391.8L470.9 390.4L471.3 388.9L471.8 387.5L472.5 386.1L473.3 384.7L474.2 383.4L475.2 382.3L476.2 381.2" />
<circle cx="484.5" cy="369.3" r="1.3" fill="#222"/>
<circle cx="490.2" cy="399.6" r="1.3" fill="#222"/>
<circle cx="464.2" cy="401.5" r="1.3" fill="#222"/>
<path class="w" d="M349.5 349.4L348.3 349.0L346.9 348.9L345.5 349.2L344.0 349.7L342.4 350.6L340.9 351.7L339.3 353.1L337.8 354.7L336.4 356.6L335.0 358.6L333.8 360.7L332.7 363.0L331.7 365.3L331.0 367.7L330.4 370.1L330.0 372.4L329.8 374.6L329.8 376.6L330.0 378.6L330.4 380.3L331.0 381.8L331.8 383.0L332.7 384.0L333.8 384.6L378.5 412.5L379.7 412.9L381.1 413.0L382.5 412.7L384.0 412.2L385.6 411.3L387.1 410.2L388.7 408.8L390.2 407.2L391.6 405.3L393.0 403.3L394.2 401.2L395.3 398.9L396.3 396.6L397.0 394.2L397.6 391.8L398.0 389.5L398.2 387.3L398.2 385.3L398.0 383.3L397.6 381.6L397.0 380.1L396.2 378.9L395.3 377.9L394.2 377.3Z" />
<path class="k" d="M346.3 353.0L384.0 376.9" style="stroke-width:0.9"/>
<path class="k" d="M344.7 354.2L382.4 378.1" style="stroke-width:0.6"/>
<path class="k" d="M348.0 352.0L385.7 375.9" style="stroke-width:0.6"/>
<path class="t" d="M332.4 381.5L375.1 408.2" />
<path class="t" d="M333.0 383.1L375.7 409.8" />
<path class="k" d="M371.0 369.3L381.0 375.1" style="stroke-width:1.8"/>
<path class="w" d="M394.1 377.5L392.9 377.2L391.5 377.1L390.1 377.4L388.7 377.9L387.1 378.8L385.6 379.9L384.1 381.2L382.6 382.8L381.2 384.7L379.9 386.6L378.7 388.8L377.6 391.0L376.6 393.3L375.9 395.6L375.3 397.9L374.9 400.2L374.7 402.4L374.7 404.4L374.9 406.3L375.3 408.0L375.9 409.4L376.6 410.7L377.5 411.6L378.6 412.3L401.8 423.5L403.0 423.8L404.4 423.9L405.8 423.6L407.2 423.1L408.8 422.2L410.3 421.1L411.8 419.8L413.3 418.2L414.7 416.3L416.0 414.4L417.2 412.2L418.3 410.0L419.3 407.7L420.0 405.4L420.6 403.1L421.0 400.8L421.2 398.6L421.2 396.6L421.0 394.7L420.6 393.0L420.0 391.6L419.3 390.3L418.4 389.4L417.3 388.7Z" />
<path class="k" d="M397.2 379.1L396.2 377.9L395.1 376.9L393.7 376.4L392.3 376.2L390.7 376.3L389.0 376.9L387.2 377.8L385.5 379.1L383.7 380.7L382.0 382.5L380.4 384.7L379.0 387.0L377.6 389.5L376.5 392.1L375.5 394.7L374.8 397.4L374.3 400.0L374.0 402.5L374.0 404.8L374.2 407.0L374.7 408.9L375.4 410.5L376.4 411.8L377.5 412.8L378.8 413.4L380.3 413.6L381.9 413.5" style="stroke-width:1.3"/>
<path class="t" d="M397.5 378.7L396.3 377.9L395.0 377.4L393.5 377.3L392.0 377.5L390.3 378.1L388.6 379.0L386.9 380.3L385.2 381.8L383.6 383.7L382.0 385.8L380.6 388.0L379.3 390.4L378.2 393.0L377.3 395.5L376.5 398.1L376.0 400.7L375.8 403.1L375.7 405.4L375.9 407.5L376.4 409.4L377.0 411.0L377.9 412.4L379.0 413.4L380.2 414.0L381.6 414.3" />
<ellipse class="w" cx="409.6" cy="406.1" rx="19.0" ry="9.6" transform="rotate(-66.0 409.6 406.1)" />
<ellipse class="k" cx="408.8" cy="405.7" rx="17.0" ry="8.4" transform="rotate(-66.0 408.8 405.7)" />
<circle cx="377.8" cy="413.3" r="1.3" class="w" style="stroke-width:1.2"/>
<clipPath id="mcc"><path d="M411.4 392.2L410.2 391.9L409.0 391.9L407.7 392.1L406.4 392.7L405.0 393.6L403.7 394.7L402.4 396.1L401.2 397.7L400.2 399.4L399.2 401.2L398.5 403.2L397.9 405.1L397.5 407.0L397.4 408.9L397.4 410.7L397.7 412.2L398.1 413.6L398.8 414.8L399.6 415.7L400.6 416.3L424.1 426.5L425.2 426.8L426.5 426.8L427.8 426.6L429.1 426.0L430.5 425.1L431.8 424.0L433.1 422.6L434.3 421.0L435.3 419.3L436.2 417.5L437.0 415.5L437.6 413.6L437.9 411.7L438.1 409.8L438.1 408.0L437.8 406.5L437.3 405.1L436.7 403.9L435.8 403.0L434.9 402.4Z"/></clipPath>
<path d="M411.4 392.2L410.2 391.9L409.0 391.9L407.7 392.1L406.4 392.7L405.0 393.6L403.7 394.7L402.4 396.1L401.2 397.7L400.2 399.4L399.2 401.2L398.5 403.2L397.9 405.1L397.5 407.0L397.4 408.9L397.4 410.7L397.7 412.2L398.1 413.6L398.8 414.8L399.6 415.7L400.6 416.3L424.1 426.5L425.2 426.8L426.5 426.8L427.8 426.6L429.1 426.0L430.5 425.1L431.8 424.0L433.1 422.6L434.3 421.0L435.3 419.3L436.2 417.5L437.0 415.5L437.6 413.6L437.9 411.7L438.1 409.8L438.1 408.0L437.8 406.5L437.3 405.1L436.7 403.9L435.8 403.0L434.9 402.4Z" fill="#1a1a1a" stroke="#111" stroke-width="0.9"/>
<g clip-path="url(#mcc)"><path d="M399.5 415.6L423.0 425.8" stroke="#fff" stroke-width="0.6" stroke-dasharray="0.9 2" fill="none"/><path d="M398.3 414.0L421.8 424.2" stroke="#fff" stroke-width="0.6" stroke-dasharray="0.9 2" fill="none"/><path d="M397.6 411.9L421.1 422.1" stroke="#fff" stroke-width="0.6" stroke-dasharray="0.9 2" fill="none"/><path d="M397.4 409.3L420.8 419.5" stroke="#fff" stroke-width="0.6" stroke-dasharray="0.9 2" fill="none"/><path d="M397.6 406.4L421.1 416.6" stroke="#fff" stroke-width="0.6" stroke-dasharray="0.9 2" fill="none"/><path d="M398.4 403.4L421.9 413.6" stroke="#fff" stroke-width="0.6" stroke-dasharray="0.9 2" fill="none"/><path d="M399.6 400.4L423.1 410.6" stroke="#fff" stroke-width="0.6" stroke-dasharray="0.9 2" fill="none"/><path d="M401.2 397.7L424.7 407.9" stroke="#fff" stroke-width="0.6" stroke-dasharray="0.9 2" fill="none"/><path d="M403.1 395.3L426.6 405.5" stroke="#fff" stroke-width="0.6" stroke-dasharray="0.9 2" fill="none"/><path d="M405.2 393.5L428.6 403.7" stroke="#fff" stroke-width="0.6" stroke-dasharray="0.9 2" fill="none"/><path d="M407.3 392.3L430.8 402.5" stroke="#fff" stroke-width="0.6" stroke-dasharray="0.9 2" fill="none"/><path d="M409.3 391.8L432.8 402.0" stroke="#fff" stroke-width="0.6" stroke-dasharray="0.9 2" fill="none"/></g>
<ellipse class="w" cx="430.2" cy="414.7" rx="21.2" ry="13.3" transform="rotate(-61.0 430.2 414.7)" />
<ellipse class="w" cx="431.7" cy="415.6" rx="21.2" ry="13.3" transform="rotate(-61.0 431.7 415.6)" style="stroke-width:1.1"/>
<ellipse class="w" cx="432.0" cy="415.8" rx="11.6" ry="7.2" transform="rotate(-61.0 432.0 415.8)" style="stroke-width:1.3"/>
<path class="t" d="M438.5 413.1L438.2 414.5L437.8 416.0L437.2 417.4L436.4 418.8L435.6 420.2L434.6 421.4L433.6 422.5L432.5 423.4L431.4 424.2L430.2 424.9L429.1 425.3L428.0 425.5L426.9 425.5L425.9 425.4L425.0 425.0L424.2 424.4L423.5 423.7L423.0 422.7L422.6 421.7L422.4 420.5L422.3 419.2L422.4 417.8L422.6 416.4L423.0 414.9L423.5 413.5L424.2 412.1L425.0 410.7L425.9 409.4L426.9 408.3L427.9 407.2" />
<circle cx="436.2" cy="395.3" r="1.3" fill="#222"/>
<circle cx="441.9" cy="425.6" r="1.3" fill="#222"/>
<circle cx="415.9" cy="427.5" r="1.3" fill="#222"/>
</g>
<!-- 31_leftasm.py -->
<g>
<path class="w" d="M140.1 338.2L138.7 337.8L137.2 337.8L135.6 338.1L133.8 338.8L132.1 339.9L130.3 341.2L128.5 342.9L126.7 344.9L125.0 347.2L123.4 349.6L122.0 352.2L120.7 354.9L119.5 357.7L118.6 360.6L117.8 363.4L117.3 366.1L117.0 368.8L116.9 371.2L117.1 373.5L117.5 375.5L118.1 377.3L119.0 378.7L120.0 379.8L121.3 380.6L152.7 395.0L154.1 395.4L155.6 395.4L157.2 395.1L159.0 394.4L160.7 393.3L162.5 392.0L164.3 390.3L166.1 388.3L167.8 386.0L169.4 383.6L170.8 381.0L172.1 378.3L173.3 375.5L174.2 372.6L175.0 369.8L175.5 367.1L175.8 364.4L175.9 362.0L175.7 359.7L175.3 357.7L174.7 355.9L173.8 354.5L172.8 353.4L171.5 352.6Z" />
<path class="k" d="M140.1 338.2L138.6 337.8L136.9 337.8L135.1 338.3L133.2 339.2L131.3 340.5L129.3 342.1L127.3 344.2L125.5 346.5L123.7 349.1L122.1 352.0L120.7 354.9L119.4 358.0L118.4 361.1L117.6 364.1L117.1 367.1L116.9 369.9L117.0 372.5L117.3 374.8L117.9 376.8L118.8 378.5L119.9 379.7L121.3 380.6" style="stroke-width:1.3"/>
<path class="k" d="M165.2 353.2L163.3 354.4L161.4 355.9L159.4 357.8L157.6 360.0L155.8 362.5L154.1 365.2L152.6 368.1L151.3 371.1L150.2 374.2L149.3 377.2L148.7 380.2L148.4 383.0L148.3 385.7L148.5 388.1L149.0 390.3L149.7 392.1L150.7 393.5L151.9 394.6L153.4 395.2L154.9 395.5L156.7 395.2" />
<path class="k" d="M165.2 353.2L167.3 352.4L169.1 352.1L170.9 352.4L172.4 353.1L173.7 354.3L174.7 355.9L175.4 358.0L175.8 360.4" />
<path class="k" d="M129.5 345.5q3.5 -4 9 -2.5q3.5 2 1 6.5q-3 3.5 -6.5 3" />
<path class="t" d="M120.0 367.0L150.0 381.0" />
<path class="k" d="M119.5 371.0L151.0 385.5" />
<circle cx="169.5" cy="352.3" r="1.7" class="w" style="stroke-width:1.3"/>
<circle cx="142.5" cy="376.5" r="1.5" class="w" style="stroke-width:1.3"/>
<path class="k" d="M165.0 350.5L172.0 354.0" style="stroke-width:1.6"/>
<path class="k" d="M151.0 399.2L212.4 438.4" style="stroke-width:1.2"/>
<path class="k" d="M203.0 431.0L213.0 437.3" style="stroke-width:2.4"/>
<ellipse class="w" cx="165.0" cy="379.0" rx="15.5" ry="7.6" transform="rotate(-66.0 165.0 379.0)" style="stroke-width:1.4"/>
<ellipse class="w" cx="167.7" cy="380.3" rx="16.5" ry="8.2" transform="rotate(-66.0 167.7 380.3)" style="stroke-width:1.4"/>
<ellipse class="w" cx="170.4" cy="381.5" rx="15.0" ry="7.4" transform="rotate(-66.0 170.4 381.5)" style="stroke-width:1.4"/>
<ellipse class="w" cx="173.1" cy="382.8" rx="16.5" ry="8.2" transform="rotate(-66.0 173.1 382.8)" style="stroke-width:1.4"/>
<ellipse class="w" cx="175.8" cy="384.0" rx="15.0" ry="7.4" transform="rotate(-66.0 175.8 384.0)" style="stroke-width:1.4"/>
<ellipse class="w" cx="179.4" cy="385.7" rx="17.0" ry="8.6" transform="rotate(-66.0 179.4 385.7)" style="stroke-width:1.4"/>
<ellipse class="w" cx="183.0" cy="387.4" rx="16.0" ry="8.0" transform="rotate(-66.0 183.0 387.4)" style="stroke-width:1.4"/>
<path class="w" d="M189.7 371.4L188.7 371.1L187.5 371.1L186.3 371.3L185.0 371.7L183.7 372.5L182.3 373.4L181.0 374.6L179.7 376.0L178.5 377.6L177.3 379.3L176.3 381.1L175.3 383.1L174.5 385.1L173.9 387.1L173.3 389.1L173.0 391.1L172.8 393.0L172.8 394.7L173.0 396.4L173.4 397.8L173.9 399.1L174.5 400.2L175.3 401.0L176.3 401.6L180.3 403.3L181.3 403.6L182.5 403.6L183.7 403.4L185.0 403.0L186.3 402.2L187.7 401.3L189.0 400.1L190.3 398.7L191.5 397.1L192.7 395.4L193.7 393.6L194.7 391.6L195.5 389.6L196.1 387.6L196.7 385.6L197.0 383.6L197.2 381.7L197.2 380.0L197.0 378.3L196.6 376.9L196.1 375.6L195.5 374.5L194.7 373.7L193.7 373.1Z" /><ellipse class="w" cx="187.0" cy="388.2" rx="16.5" ry="8.4" transform="rotate(-66.0 187.0 388.2)" />
<ellipse class="w" cx="187.0" cy="388.2" rx="16.5" ry="8.4" transform="rotate(-66.0 187.0 388.2)" style="stroke-width:1.4"/>
<ellipse class="k" cx="187.0" cy="388.2" rx="13.2" ry="6.5" transform="rotate(-66.0 187.0 388.2)" style="stroke-width:1.2"/>
<ellipse class="k" cx="186.5" cy="388.2" rx="10.5" ry="5.0" transform="rotate(-66.0 186.5 388.2)" />
<path class="k" d="M187.0 387.5L204.0 396.0" style="stroke-width:2.6"/>
<path class="t" d="M187.0 385.5L206.0 395.0" />
<path class="w" d="M214.2 390.8L212.8 390.4L211.4 390.4L209.8 390.7L208.2 391.3L206.5 392.2L204.8 393.5L203.1 395.0L201.4 396.8L199.9 398.9L198.4 401.1L197.0 403.5L195.8 406.0L194.8 408.6L193.9 411.2L193.2 413.8L192.8 416.3L192.5 418.7L192.5 421.0L192.7 423.1L193.2 425.0L193.8 426.6L194.6 428.0L195.6 429.0L196.8 429.8L216.8 440.3L218.2 440.7L219.6 440.7L221.2 440.4L222.8 439.8L224.5 438.9L226.2 437.6L227.9 436.1L229.6 434.3L231.1 432.2L232.6 430.0L234.0 427.6L235.2 425.1L236.2 422.5L237.1 419.9L237.8 417.3L238.2 414.8L238.5 412.4L238.5 410.1L238.3 408.0L237.8 406.1L237.2 404.5L236.4 403.1L235.4 402.1L234.2 401.3Z" />
<path class="k" d="M214.2 390.8L212.7 390.4L211.1 390.4L209.4 390.8L207.6 391.6L205.7 392.8L203.9 394.3L202.0 396.2L200.3 398.3L198.6 400.7L197.1 403.3L195.8 406.0L194.7 408.8L193.8 411.6L193.1 414.5L192.7 417.2L192.5 419.8L192.6 422.2L193.0 424.3L193.6 426.2L194.5 427.8L195.5 428.9L196.8 429.8" style="stroke-width:1.3"/>
<ellipse class="w" cx="225.5" cy="420.8" rx="21.3" ry="10.6" transform="rotate(-66.0 225.5 420.8)" />
<ellipse class="k" cx="224.7" cy="420.4" rx="19.0" ry="9.2" transform="rotate(-66.0 224.7 420.4)" />
<path class="k" d="M198.0 384.5L226.0 397.5" style="stroke-width:1.4"/>
<path class="k" d="M200.0 387.5L224.0 399.5" style="stroke-width:1"/>
<circle cx="206.5" cy="391" r="1.7" class="w" style="stroke-width:1.4"/>
<circle cx="192.5" cy="427" r="1.6" class="w" style="stroke-width:1.4"/>
<circle cx="196.5" cy="429" r="1.4" class="w" style="stroke-width:1.4"/>
<clipPath id="mcl"><path d="M227.6 407.8L226.6 407.5L225.5 407.5L224.3 407.8L223.1 408.4L221.9 409.3L220.6 410.4L219.5 411.7L218.3 413.2L217.3 414.8L216.5 416.6L215.7 418.4L215.2 420.3L214.8 422.1L214.6 423.9L214.6 425.5L214.8 427.0L215.2 428.3L215.8 429.4L216.5 430.2L217.4 430.8L236.4 440.7L237.4 441.0L238.5 441.0L239.7 440.7L240.9 440.1L242.1 439.2L243.4 438.1L244.5 436.8L245.7 435.3L246.7 433.7L247.5 431.9L248.3 430.1L248.8 428.2L249.2 426.4L249.4 424.6L249.4 423.0L249.2 421.5L248.8 420.2L248.2 419.1L247.5 418.3L246.6 417.7Z"/></clipPath>
<path d="M227.6 407.8L226.6 407.5L225.5 407.5L224.3 407.8L223.1 408.4L221.9 409.3L220.6 410.4L219.5 411.7L218.3 413.2L217.3 414.8L216.5 416.6L215.7 418.4L215.2 420.3L214.8 422.1L214.6 423.9L214.6 425.5L214.8 427.0L215.2 428.3L215.8 429.4L216.5 430.2L217.4 430.8L236.4 440.7L237.4 441.0L238.5 441.0L239.7 440.7L240.9 440.1L242.1 439.2L243.4 438.1L244.5 436.8L245.7 435.3L246.7 433.7L247.5 431.9L248.3 430.1L248.8 428.2L249.2 426.4L249.4 424.6L249.4 423.0L249.2 421.5L248.8 420.2L248.2 419.1L247.5 418.3L246.6 417.7Z" fill="#1a1a1a" stroke="#111" stroke-width="0.9"/>
<g clip-path="url(#mcl)"><path d="M216.4 430.2L235.4 440.1" stroke="#fff" stroke-width="0.7" stroke-dasharray="1 1.5" fill="none"/><path d="M215.4 428.7L234.4 438.6" stroke="#fff" stroke-width="0.7" stroke-dasharray="1 1.5" fill="none"/><path d="M214.7 426.7L233.7 436.6" stroke="#fff" stroke-width="0.7" stroke-dasharray="1 1.5" fill="none"/><path d="M214.6 424.3L233.6 434.2" stroke="#fff" stroke-width="0.7" stroke-dasharray="1 1.5" fill="none"/><path d="M214.9 421.5L233.9 431.4" stroke="#fff" stroke-width="0.7" stroke-dasharray="1 1.5" fill="none"/><path d="M215.7 418.7L234.7 428.6" stroke="#fff" stroke-width="0.7" stroke-dasharray="1 1.5" fill="none"/><path d="M216.8 415.8L235.8 425.7" stroke="#fff" stroke-width="0.7" stroke-dasharray="1 1.5" fill="none"/><path d="M218.3 413.2L237.3 423.1" stroke="#fff" stroke-width="0.7" stroke-dasharray="1 1.5" fill="none"/><path d="M220.1 410.9L239.1 420.8" stroke="#fff" stroke-width="0.7" stroke-dasharray="1 1.5" fill="none"/><path d="M222.0 409.2L241.0 419.1" stroke="#fff" stroke-width="0.7" stroke-dasharray="1 1.5" fill="none"/><path d="M223.9 408.0L242.9 417.9" stroke="#fff" stroke-width="0.7" stroke-dasharray="1 1.5" fill="none"/><path d="M225.8 407.5L244.8 417.4" stroke="#fff" stroke-width="0.7" stroke-dasharray="1 1.5" fill="none"/></g>
<ellipse class="w" cx="243.1" cy="434.8" rx="20.8" ry="12.0" transform="rotate(-64.0 243.1 434.8)" />
<ellipse class="w" cx="244.6" cy="435.6" rx="20.8" ry="12.0" transform="rotate(-64.0 244.6 435.6)" style="stroke-width:1.1"/>
<ellipse class="w" cx="245.1" cy="435.9" rx="11.0" ry="6.4" transform="rotate(-64.0 245.1 435.9)" style="stroke-width:1.2"/>
<circle cx="249.6" cy="415.4" r="1.4" fill="#222"/>
<circle cx="254.3" cy="444.5" r="1.4" fill="#222"/>
<circle cx="231.8" cy="451.9" r="1.4" fill="#222"/>
<path class="w" d="M255.3 423.7L254.7 423.5L254.1 423.5L253.5 423.6L252.9 423.8L252.2 424.2L251.6 424.6L250.9 425.2L250.3 425.9L249.7 426.6L249.1 427.5L248.6 428.4L248.2 429.3L247.8 430.3L247.5 431.2L247.2 432.2L247.1 433.2L247.0 434.1L247.0 435.0L247.1 435.8L247.3 436.5L247.5 437.1L247.9 437.6L248.3 438.0L248.7 438.3L260.7 444.3L261.3 444.5L261.9 444.5L262.5 444.4L263.1 444.2L263.8 443.8L264.4 443.4L265.1 442.8L265.7 442.1L266.3 441.4L266.9 440.5L267.4 439.6L267.8 438.7L268.2 437.7L268.5 436.8L268.8 435.8L268.9 434.8L269.0 433.9L269.0 433.0L268.9 432.2L268.7 431.5L268.5 430.9L268.1 430.4L267.7 430.0L267.3 429.7Z" />
<path class="k" d="M250.5 437.5L262.0 443.5" style="stroke-width:2"/>
<path class="w" d="M278.2 413.8L276.4 413.2L274.5 413.0L272.5 413.2L270.4 413.8L268.3 414.7L266.2 416.0L264.1 417.7L262.1 419.6L260.2 421.8L258.5 424.3L256.9 426.9L255.5 429.7L254.4 432.6L253.5 435.5L252.8 438.5L252.4 441.4L252.3 444.2L252.5 446.8L252.9 449.2L253.6 451.4L254.6 453.4L255.8 455.0L257.2 456.3L258.8 457.2L277.3 466.5L279.1 467.1L281.0 467.3L283.0 467.1L285.1 466.5L287.2 465.6L289.3 464.3L291.4 462.6L293.4 460.7L295.3 458.5L297.0 456.0L298.6 453.4L300.0 450.6L301.1 447.7L302.0 444.8L302.7 441.8L303.1 438.9L303.2 436.1L303.0 433.5L302.6 431.1L301.9 428.9L300.9 426.9L299.7 425.3L298.3 424.0L296.7 423.1Z" />
<path class="k" d="M278.2 413.8L276.2 413.2L274.1 413.0L271.9 413.3L269.6 414.1L267.3 415.3L265.0 416.9L262.8 418.9L260.7 421.2L258.8 423.8L257.0 426.7L255.5 429.7L254.3 432.9L253.3 436.1L252.7 439.3L252.4 442.4L252.4 445.4L252.7 448.1L253.3 450.7L254.3 452.9L255.6 454.7L257.1 456.2L258.8 457.2" style="stroke-width:1.3"/>
<path class="t" d="M284.3 417.3L282.6 416.2L280.7 415.5L278.6 415.2L276.4 415.4L274.1 416.1L271.8 417.2L269.5 418.7L267.3 420.6L265.2 422.9L263.2 425.4L261.4 428.2L259.8 431.2L258.5 434.4L257.5 437.6L256.8 440.8L256.4 443.9L256.3 446.9L256.6 449.8L257.2 452.3L258.1 454.6L259.3 456.6L260.7 458.1" />
<ellipse class="w" cx="287.0" cy="444.8" rx="23.8" ry="14.2" transform="rotate(-66.0 287.0 444.8)" style="stroke-width:1.2"/>
<ellipse class="k" cx="286.5" cy="444.6" rx="21.5" ry="12.4" transform="rotate(-66.0 286.5 444.6)" />
<ellipse class="k" cx="284.5" cy="443.6" rx="18.5" ry="9.8" transform="rotate(-66.0 284.5 443.6)" />
<path class="w" d="M275.5 411.5l2.5 -2.5l19 10l-2 3z" style="stroke-width:1.2"/>
<path class="t" d="M279 417l17 9" />
<path class="w" d="M279.5 474.5l1.5 4.5l15 7.5l1.5 -3.5z" style="stroke-width:1.2"/>
<path class="k" d="M251 433.5l17 10q2 2 0 3.5l-2 1.2" />
<ellipse class="k" cx="303.5" cy="462.0" rx="23.0" ry="12.5" transform="rotate(-62.0 303.5 462.0)" style="stroke-width:1.2"/>
<ellipse class="k" cx="303.5" cy="462.0" rx="20.5" ry="10.8" transform="rotate(-62.0 303.5 462.0)" />
<ellipse class="k" cx="316.0" cy="468.5" rx="23.0" ry="12.5" transform="rotate(-62.0 316.0 468.5)" style="stroke-width:1.2"/>
<ellipse class="k" cx="316.0" cy="468.5" rx="20.5" ry="10.8" transform="rotate(-62.0 316.0 468.5)" />
<path class="k" d="M314.3 441.7L326.8 448.2" style="stroke-width:1.5"/>
<path class="k" d="M292.7 482.3L305.2 488.8" style="stroke-width:1.5"/>
<path class="k" d="M292.5 456.1L305.0 462.6" style="stroke-width:1.5"/>
<path class="k" d="M305.0 458.0L322.0 467.0" style="stroke-width:2"/>
<ellipse class="w" cx="327.3" cy="475.0" rx="21.4" ry="13.0" transform="rotate(-57.7 327.3 475.0)" style="stroke-width:1.2"/>
<ellipse class="k" cx="327.3" cy="475.0" rx="19.0" ry="11.0" transform="rotate(-57.7 327.3 475.0)" style="stroke-width:1.2"/>
<circle cx="326.6" cy="457.2" r="1.2" fill="#222"/>
<circle cx="341.4" cy="477.2" r="1.2" fill="#222"/>
<circle cx="314.1" cy="492.4" r="1.2" fill="#222"/>
</g>
<!-- 40_topright.py -->
<g>
<path class="w" d="M593.5 64.0C597.4 63.2 602.2 65.0 603.5 66.0C604.8 67.0 604.2 68.7 601.0 70.0C597.8 71.3 587.6 71.7 584.0 74.0C580.4 76.3 580.8 79.8 579.5 84.0C578.2 88.2 577.8 93.5 576.5 99.0C575.2 104.5 571.8 112.4 571.5 117.0C571.2 121.6 574.8 124.7 575.0 126.5C575.2 128.3 573.7 129.2 572.5 128.0C571.3 126.8 568.1 123.7 568.0 119.0C567.9 114.3 570.8 105.8 572.0 100.0C573.2 94.2 573.7 88.8 575.0 84.0C576.3 79.2 576.9 74.3 580.0 71.0C583.1 67.7 589.6 64.8 593.5 64.0Z" style="stroke-width:1.1"/>
<path class="k" d="M594.0 66.5C592.5 68.1 587.1 72.9 585.0 76.0C582.9 79.1 582.6 81.0 581.5 85.0C580.4 89.0 579.8 94.7 578.5 100.0C577.2 105.3 574.4 113.0 574.0 117.0C573.6 121.0 575.7 122.8 576.0 124.0" style="stroke-width:0.8"/>
<path class="w" d="M584.0 50.0C586.2 49.0 586.3 50.7 588.0 52.0C589.7 53.3 593.3 56.7 594.0 58.0C594.7 59.3 594.7 58.5 592.0 60.0C589.3 61.5 581.3 63.2 578.0 67.0C574.7 70.8 573.8 76.7 572.0 83.0C570.2 89.3 567.2 98.8 567.0 105.0C566.8 111.2 571.2 117.0 571.0 120.0C570.8 123.0 567.8 123.3 566.0 123.0C564.2 122.7 561.2 121.0 560.0 118.0C558.8 115.0 558.3 110.5 559.0 105.0C559.7 99.5 562.5 90.8 564.0 85.0C565.5 79.2 566.2 74.5 568.0 70.0C569.8 65.5 572.3 61.3 575.0 58.0C577.7 54.7 581.8 51.0 584.0 50.0Z" style="stroke-width:1.5"/>
<path class="k" d="M583.7 51.6C585.0 52.8 592.3 56.3 591.4 59.0C590.5 61.7 581.4 64.0 578.5 68.0C575.5 72.0 575.2 76.8 573.6 83.0C572.0 89.2 569.3 99.1 568.6 105.0C567.9 110.9 569.4 116.0 569.5 118.2" style="stroke-width:1.2"/>
<path class="k" d="M583.4 53.2C584.4 54.2 590.5 56.4 589.8 59.0C589.1 61.6 581.4 64.9 579.0 68.9C576.5 72.9 576.7 77.0 575.2 83.0C573.7 89.0 571.2 99.3 570.2 105.0C569.2 110.7 569.6 115.3 569.5 117.4" style="stroke-width:1.2"/>
<path class="k" d="M575.0 59.5C574.1 61.4 571.1 66.6 569.5 71.0C567.9 75.4 567.0 80.3 565.5 86.0C564.0 91.7 561.5 99.8 560.8 105.0C560.1 110.2 561.4 115.0 561.5 117.0" style="stroke-width:1.3"/>
<ellipse class="w" cx="584.5" cy="50.5" rx="2.8" ry="2.2" transform="rotate(-30.0 584.5 50.5)" style="stroke-width:2"/>
<ellipse class="w" cx="553.5" cy="115.5" rx="2.8" ry="2.2" transform="rotate(-30.0 553.5 115.5)" style="stroke-width:2.2"/>
<path class="k" d="M560 119q2 4 6 3" style="stroke-width:2"/>
<path class="w" d="M562.8 65.9L560.2 68.5L556.8 67.5L555.8 64.1L558.4 61.5L561.8 62.5Z" />
<circle cx="559.3" cy="65" r="1.6" class="k" style="stroke-width:1.4"/>
<path class="t" d="M568.3 100.3L640.0 135.0" style="stroke-width:0.8"/>
<path class="t" d="M569.0 87.5L640.0 117.0" style="stroke-width:0.8"/>
<path class="w" d="M615.5 47.4C619.0 45.2 622.5 46.8 626.0 47.0C629.5 47.2 633.2 47.6 636.4 48.6C639.6 49.6 642.4 51.4 645.0 53.0C647.6 54.6 651.5 50.7 652.0 58.5C652.5 66.3 648.3 84.8 648.0 100.0C647.7 115.2 651.0 137.5 650.0 150.0C649.0 162.5 646.4 171.8 642.2 175.0C638.0 178.2 631.2 171.7 624.8 169.2C618.4 166.7 607.8 165.0 603.9 160.0C600.0 155.0 601.8 146.4 601.6 139.1C601.4 131.8 602.0 123.2 602.8 115.9C603.6 108.6 606.2 101.6 606.2 95.0C606.2 88.4 603.0 82.2 602.8 76.4C602.6 70.6 603.0 65.0 605.1 60.2C607.2 55.4 612.0 49.6 615.5 47.4Z" style="stroke-width:1.3"/>
<path class="k" d="M619.1 42.3L637.2 50.8" style="stroke-width:2"/>
<circle cx="619.1" cy="42.3" r="1.7" fill="#111"/>
<path class="k" d="M607.5 50.9L633.1 63.6" style="stroke-width:1.4"/>
<path class="k" d="M607.5 56.1L633.1 68.8" style="stroke-width:1.4"/>
<path class="k" d="M600.0 50.7L625.9 62.9" style="stroke-width:2"/>
<circle cx="600.0" cy="50.7" r="1.8" fill="#111"/>
<path class="k" d="M602.0 67.9L629.5 81.5" style="stroke-width:1.4"/>
<path class="k" d="M602.0 73.1L629.5 86.7" style="stroke-width:1.4"/>
<path class="k" d="M607.5 56.1Q598.2 62.0 602.0 67.9" style="stroke-width:1.2"/>
<path class="k" d="M594.5 67.7L622.2 80.7" style="stroke-width:2"/>
<circle cx="594.5" cy="67.7" r="1.8" fill="#111"/>
<path class="k" d="M605.0 85.4L630.6 98.2" style="stroke-width:1.4"/>
<path class="k" d="M605.0 90.6L630.6 103.3" style="stroke-width:1.4"/>
<path class="k" d="M602.0 73.1Q597.0 79.2 605.0 85.4" style="stroke-width:1.2"/>
<path class="k" d="M597.5 85.2L623.4 97.3" style="stroke-width:2"/>
<circle cx="597.5" cy="85.2" r="1.8" fill="#111"/>
<path class="k" d="M605.0 102.9L630.6 115.7" style="stroke-width:1.4"/>
<path class="k" d="M605.0 108.1L630.6 120.8" style="stroke-width:1.4"/>
<path class="k" d="M605.0 90.6Q598.5 96.8 605.0 102.9" style="stroke-width:1.2"/>
<path class="k" d="M605.5 105.5L625.2 115.7" style="stroke-width:1.6"/>
<path class="k" d="M603.0 120.4L630.5 134.0" style="stroke-width:1.4"/>
<path class="k" d="M603.0 125.6L630.5 139.2" style="stroke-width:1.4"/>
<path class="k" d="M605.0 108.1Q597.5 114.2 603.0 120.4" style="stroke-width:1.2"/>
<path class="k" d="M595.5 120.2L623.2 133.2" style="stroke-width:2"/>
<circle cx="595.5" cy="120.2" r="1.8" fill="#111"/>
<path class="k" d="M602.0 138.4L631.3 152.8" style="stroke-width:1.4"/>
<path class="k" d="M602.0 143.6L631.3 158.0" style="stroke-width:1.4"/>
<path class="k" d="M603.0 125.6Q596.0 132.0 602.0 138.4" style="stroke-width:1.2"/>
<path class="k" d="M594.5 138.2L624.0 152.1" style="stroke-width:2"/>
<circle cx="594.5" cy="138.2" r="1.8" fill="#111"/>
<path class="k" d="M606.0 154.4L631.6 167.2" style="stroke-width:1.4"/>
<path class="k" d="M606.0 159.6L631.6 172.3" style="stroke-width:1.4"/>
<path class="k" d="M602.0 143.6Q597.5 149.0 606.0 154.4" style="stroke-width:1.2"/>
<path class="k" d="M606.5 157.0L626.2 167.2" style="stroke-width:1.6"/>
<path class="w" d="M651.5 57.8C656.5 58.2 662.4 64.8 666.6 69.5C670.9 74.2 674.9 79.5 677.0 85.7C679.1 91.9 679.3 98.1 679.3 106.6C679.3 115.1 678.7 128.7 677.0 136.8C675.3 144.9 672.6 149.9 668.9 155.3C665.2 160.7 659.5 165.9 655.0 169.2C650.5 172.5 644.9 175.4 642.2 175.0C639.5 174.6 640.2 170.6 638.7 166.9C637.2 163.2 633.9 159.2 632.9 153.0C631.9 146.8 633.3 137.5 632.9 129.8C632.5 122.1 631.4 113.9 630.6 106.6C629.8 99.2 627.3 92.3 628.3 85.7C629.3 79.1 632.5 71.8 636.4 67.1C640.3 62.4 646.5 57.4 651.5 57.8Z" style="stroke-width:1.9"/>
<path class="k" d="M649.3 58.1C654.3 58.5 660.1 65.1 664.4 69.8C668.6 74.5 672.7 79.8 674.8 86.0C676.9 92.2 677.1 98.4 677.1 106.9C677.1 115.4 676.5 129.0 674.8 137.1C673.1 145.2 670.4 150.2 666.7 155.6C663.0 161.0 657.2 166.2 652.8 169.5C648.3 172.8 642.7 175.7 640.0 175.3C637.3 174.9 638.0 170.9 636.5 167.2C635.0 163.5 631.7 159.5 630.7 153.3C629.7 147.1 631.1 137.8 630.7 130.1C630.3 122.4 629.2 114.2 628.4 106.9C627.6 99.5 625.1 92.6 626.1 86.0C627.1 79.4 630.3 72.0 634.2 67.4C638.1 62.7 644.3 57.7 649.3 58.1Z" style="stroke-width:1"/>
<path class="k" d="M650.0 64.0C653.7 64.3 658.5 69.7 662.0 74.0C665.5 78.3 669.2 84.3 671.0 90.0C672.8 95.7 673.0 100.7 673.0 108.0C673.0 115.3 672.5 126.8 671.0 134.0C669.5 141.2 667.2 146.0 664.0 151.0C660.8 156.0 655.3 161.2 652.0 164.0C648.7 166.8 646.0 168.7 644.0 168.0C642.0 167.3 641.2 163.0 640.0 160.0C638.8 157.0 637.4 155.2 637.0 150.0C636.6 144.8 637.8 136.2 637.5 129.0C637.2 121.8 636.1 113.8 635.5 107.0C634.9 100.2 633.2 93.8 634.0 88.0C634.8 82.2 637.3 76.0 640.0 72.0C642.7 68.0 646.3 63.7 650.0 64.0Z" style="stroke-width:1.2"/>
<circle cx="659.0" cy="62.5" r="1.3" fill="#111"/>
<circle cx="673.0" cy="77.0" r="1.3" fill="#111"/>
<circle cx="679.0" cy="96.0" r="1.3" fill="#111"/>
<circle cx="679.5" cy="120.0" r="1.3" fill="#111"/>
<circle cx="675.0" cy="145.0" r="1.3" fill="#111"/>
<circle cx="663.0" cy="163.0" r="1.3" fill="#111"/>
<circle cx="648.0" cy="173.0" r="1.3" fill="#111"/>
<circle cx="634.0" cy="142.0" r="1.3" fill="#111"/>
<circle cx="631.0" cy="118.0" r="1.3" fill="#111"/>
<circle cx="629.0" cy="95.0" r="1.3" fill="#111"/>
<circle cx="631.0" cy="76.0" r="1.3" fill="#111"/>
<path class="k" d="M640 70q-5 12 -3 30M644 72q-4 10 -2 24M650 66l2 16M655 70l2 14M646 84l14 7M644 90l16 8" style="stroke-width:1.8"/>
<path class="k" d="M638 78q8 -10 16 -10M641 100q6 -8 18 -4M662 76q6 8 7 22M640 104l10 4M652 98l10 6" style="stroke-width:1.5"/>
<path class="k" d="M660 80l4 18M664 84l3 16" />
<path class="w" d="M646.9 141.1L657.4 108.8A8.0 8.0 0 0 0 642.1 103.9L631.6 136.2A8.0 8.0 0 0 0 646.9 141.1Z" style="stroke-width:1.4"/>
<path class="k" d="M644.9 140.2L655.2 108.4A5.8 5.8 0 0 0 644.1 104.8L633.8 136.6A5.8 5.8 0 0 0 644.9 140.2Z" />
<path class="w" d="M664.0 152.9L673.6 121.5A9.6 9.6 0 0 0 655.2 115.9L645.6 147.3A9.6 9.6 0 0 0 664.0 152.9Z" style="stroke-width:1.4"/>
<path class="k" d="M661.9 152.2L671.5 120.9A7.4 7.4 0 0 0 657.3 116.6L647.7 147.9A7.4 7.4 0 0 0 661.9 152.2Z" style="stroke-width:1.2"/>
<path class="k" d="M650 150q8 -4 12 -14M652 154q8 -4 13 -15" style="stroke-width:1.3"/>
<path class="w" d="M686.6 101.4L693.0 93.0L699.0 87.6L705.9 87.6L714.0 92.0L721.0 98.6L728.0 110.0L732.0 124.0L735.0 142.0L740.0 168.0L750.0 178.0L752.0 200.0L742.0 218.0L729.3 222.8L682.4 197.9L679.7 175.9L687.9 153.8L690.7 140.0L682.4 126.2Z" style="stroke-width:1.4"/>
<path class="w" d="M704.1 89.5L702.6 89.2L701.0 89.3L699.3 89.8L697.5 90.7L695.7 92.0L693.9 93.6L692.1 95.6L690.4 97.8L688.8 100.4L687.3 103.1L685.9 106.0L684.7 109.1L683.7 112.2L682.8 115.3L682.2 118.4L681.9 121.3L681.7 124.2L681.8 126.8L682.1 129.2L682.7 131.4L683.5 133.2L684.4 134.7L685.6 135.8L686.9 136.5L704.9 146.0L706.4 146.3L708.0 146.2L709.7 145.7L711.5 144.8L713.3 143.5L715.1 141.9L716.9 139.9L718.6 137.7L720.2 135.1L721.7 132.4L723.1 129.5L724.3 126.4L725.3 123.3L726.2 120.2L726.8 117.1L727.1 114.2L727.3 111.3L727.2 108.7L726.9 106.3L726.3 104.1L725.5 102.3L724.6 100.8L723.4 99.7L722.1 99.0Z" />
<path class="k" d="M704.1 89.5L702.4 89.2L700.7 89.4L698.8 90.0L696.9 91.1L694.9 92.7L692.9 94.6L691.0 97.0L689.2 99.7L687.5 102.6L686.0 105.8L684.7 109.1L683.6 112.5L682.7 115.8L682.1 119.2L681.8 122.4L681.7 125.4L682.0 128.2L682.5 130.6L683.2 132.7L684.3 134.4L685.5 135.7L686.9 136.5" style="stroke-width:1.5"/>
<path class="t" d="M704.8 91.2L703.2 91.2L701.5 91.6L699.7 92.5L697.9 93.8L696.0 95.6L694.2 97.6L692.5 100.0L690.8 102.7L689.3 105.6L688.0 108.7L686.8 111.9L685.9 115.1L685.1 118.3L684.7 121.5L684.5 124.4L684.5 127.2L684.8 129.7L685.4 131.9L686.2 133.7L687.2 135.1L688.4 136.1" />
<path class="k" d="M715.5 100.2L713.6 101.6L711.6 103.4L709.7 105.6L707.9 108.1L706.2 110.9L704.6 114.0L703.2 117.2L702.0 120.5L701.1 123.9L700.4 127.2L699.9 130.5L699.7 133.5L699.8 136.4L700.2 139.0L700.8 141.3L701.7 143.1L702.8 144.6L704.2 145.6L705.7 146.2L707.4 146.3L709.2 145.9" />
<ellipse class="k" cx="715.5" cy="123.0" rx="19.5" ry="10.5" transform="rotate(-66.0 715.5 123.0)" style="stroke-width:1.3"/>
<ellipse class="k" cx="714.5" cy="122.7" rx="17.0" ry="9.0" transform="rotate(-66.0 714.5 122.7)" />
<path class="w" d="M701.5 88.5l2.5 -1.5l15 9.5l-1 4l-2.5 1z" style="stroke-width:1.2"/>
<path class="t" d="M704 90.5l13 8" />
<path class="w" d="M686.5 103.5l6.5 3.5l0.5 3.5l-7 -3.5z" style="stroke-width:1.2"/>
<path class="w" d="M681.5 125l16 9l0.5 5l-3 1.5l-14.5 -8z" style="stroke-width:1.2"/>
<path class="w" d="M689 140.5l6 3.2l-0.5 3l-6 -3.2z" style="stroke-width:1.1"/>
<path class="w" d="M690.0 151.0l5 2.7l-0.8 3l-5 -2.7z" style="stroke-width:1.1"/>
<path class="w" d="M684.0 168.0l5 2.7l-0.8 3l-5 -2.7z" style="stroke-width:1.1"/>
<path class="w" d="M682.0 185.0l5 2.7l-0.8 3l-5 -2.7z" style="stroke-width:1.1"/>
<path class="w" d="M684.0 198.0l5 2.7l-0.8 3l-5 -2.7z" style="stroke-width:1.1"/>
<path class="k" d="M690.0 152.0L737.0 176.0" style="stroke-width:2.0"/>
<path class="k" d="M689.0 157.0L734.0 180.0" style="stroke-width:0.8"/>
<path class="k" d="M687.0 164.0L733.0 188.0" style="stroke-width:1.4"/>
<path class="k" d="M685.0 171.0L731.0 195.0" style="stroke-width:0.8"/>
<path class="k" d="M682.0 180.0L730.0 205.0" style="stroke-width:1.8"/>
<path class="k" d="M682.0 190.0L730.0 214.0" style="stroke-width:0.8"/>
<path class="k" d="M683.0 196.0L731.0 220.0" style="stroke-width:1.6"/>
<path class="k" d="M705 135q4 12 18 17M731 124q3 18 -2 30" />
<ellipse class="w" cx="741.1" cy="195.6" rx="21.5" ry="13.0" transform="rotate(-66.0 741.1 195.6)" style="stroke-width:1.2"/>
<ellipse class="w" cx="743.1" cy="196.6" rx="21.5" ry="13.0" transform="rotate(-66.0 743.1 196.6)" style="stroke-width:2"/>
<path class="w" d="M745.8 202.6L752.6 187.2A5.6 5.6 0 0 0 742.4 182.6L735.6 198.0A5.6 5.6 0 0 0 745.8 202.6Z" style="stroke-width:1.2"/>
<path class="t" d="M743.6 201.5L750.3 186.6A4.8 4.8 0 0 0 741.6 182.7L734.9 197.6A4.8 4.8 0 0 0 743.6 201.5Z" />
<circle cx="752.3" cy="176.0" r="1.6" fill="#111"/>
<circle cx="733.9" cy="217.2" r="1.6" fill="#111"/>
<ellipse class="k" cx="771.0" cy="211.8" rx="22.0" ry="14.3" transform="rotate(-60.0 771.0 211.8)" style="stroke-width:1.3"/>
<ellipse class="k" cx="771.0" cy="211.8" rx="19.6" ry="12.4" transform="rotate(-60.0 771.0 211.8)" />
<ellipse class="k" cx="776.2" cy="214.6" rx="22.0" ry="14.3" transform="rotate(-60.0 776.2 214.6)" style="stroke-width:1.3"/>
<ellipse class="k" cx="776.2" cy="214.6" rx="19.6" ry="12.4" transform="rotate(-60.0 776.2 214.6)" />
<ellipse class="k" cx="781.5" cy="217.5" rx="22.0" ry="14.3" transform="rotate(-60.0 781.5 217.5)" style="stroke-width:1.3"/>
<ellipse class="k" cx="781.5" cy="217.5" rx="19.6" ry="12.4" transform="rotate(-60.0 781.5 217.5)" />
<circle cx="769.0" cy="193.0" r="1.1" fill="#222"/>
<circle cx="786.5" cy="213.9" r="1.1" fill="#222"/>
<circle cx="757.9" cy="230.3" r="1.1" fill="#222"/>
<circle cx="779.5" cy="198.7" r="1.1" fill="#222"/>
<circle cx="797.0" cy="219.6" r="1.1" fill="#222"/>
<circle cx="768.4" cy="236.0" r="1.1" fill="#222"/>
<ellipse class="gw" cx="722.3" cy="123.7" rx="13.0" ry="8.0" transform="rotate(-64.0 722.3 123.7)" style="stroke-width:1.2"/>
<ellipse class="gw" cx="724.9" cy="125.1" rx="14.5" ry="9.0" transform="rotate(-64.0 724.9 125.1)" style="stroke-width:1.2"/>
<ellipse class="gw" cx="727.6" cy="126.6" rx="13.0" ry="8.0" transform="rotate(-64.0 727.6 126.6)" style="stroke-width:1.2"/>
<ellipse class="gw" cx="730.2" cy="128.1" rx="14.5" ry="9.0" transform="rotate(-64.0 730.2 128.1)" style="stroke-width:1.2"/>
<ellipse class="gw" cx="732.8" cy="129.6" rx="13.0" ry="8.0" transform="rotate(-64.0 732.8 129.6)" style="stroke-width:1.2"/>
<path class="gw" d="M736.3 117.7L735.3 117.4L734.4 117.2L733.3 117.3L732.2 117.5L731.1 118.0L730.0 118.6L728.9 119.4L727.9 120.3L726.9 121.4L725.9 122.6L725.1 123.9L724.3 125.3L723.7 126.7L723.2 128.2L722.8 129.6L722.6 131.1L722.5 132.5L722.6 133.8L722.8 135.1L723.1 136.2L723.6 137.2L724.2 138.1L724.9 138.8L725.7 139.3L733.7 143.8L734.7 144.1L735.6 144.3L736.7 144.2L737.8 144.0L738.9 143.5L740.0 142.9L741.1 142.1L742.1 141.2L743.1 140.1L744.1 138.9L744.9 137.6L745.7 136.2L746.3 134.8L746.8 133.3L747.2 131.9L747.4 130.4L747.5 129.0L747.4 127.7L747.2 126.4L746.9 125.3L746.4 124.3L745.8 123.4L745.1 122.7L744.3 122.2Z" /><ellipse class="gw" cx="739.0" cy="133.0" rx="12.0" ry="7.4" transform="rotate(-64.0 739.0 133.0)" />
<ellipse class="g" cx="739.0" cy="133.0" rx="8.5" ry="5.0" transform="rotate(-64.0 739.0 133.0)" />
<path class="g" d="M739.0 133.0L752.0 140.0" style="stroke-width:2.4"/>
<path class="gw" d="M771.4 128.8L769.6 128.1L767.8 127.7L765.8 127.6L763.7 127.8L761.7 128.3L759.6 129.2L757.6 130.3L755.6 131.8L753.8 133.5L752.1 135.4L750.5 137.4L749.2 139.7L748.1 142.1L747.2 144.5L746.6 147.0L746.2 149.4L746.1 151.8L746.3 154.2L746.8 156.4L747.5 158.4L748.4 160.2L749.6 161.8L751.0 163.1L752.6 164.2L778.6 180.2L780.4 180.9L782.2 181.3L784.2 181.4L786.3 181.2L788.3 180.7L790.4 179.8L792.4 178.7L794.4 177.2L796.2 175.5L797.9 173.6L799.5 171.6L800.8 169.3L801.9 166.9L802.8 164.5L803.4 162.0L803.8 159.6L803.9 157.2L803.7 154.8L803.2 152.6L802.5 150.6L801.6 148.8L800.4 147.2L799.0 145.9L797.4 144.8Z" />
<ellipse class="gw" cx="788.0" cy="162.5" rx="20.0" ry="14.5" transform="rotate(-62.0 788.0 162.5)" style="stroke-width:1.2"/>
<ellipse class="g" cx="788.0" cy="162.5" rx="16.5" ry="11.6" transform="rotate(-62.0 788.0 162.5)" />
<ellipse class="g" cx="788.0" cy="162.5" rx="2.2" ry="1.6" transform="rotate(-62.0 788.0 162.5)" style="stroke-width:1.4"/>
<path class="g" d="M784.7 154.5L785.8 153.7L787.0 153.0L788.2 152.5L789.4 152.2L790.5 152.1L791.6 152.2L792.7 152.6L793.6 153.1L794.5 153.8L795.2 154.6L795.8 155.6L796.2 156.8L796.4 158.0L796.5 159.4L796.5 160.8L796.2 162.2L795.8 163.7L795.3 165.1L794.6 166.5L793.8 167.7" style="stroke-width:2.4;stroke-dasharray:1 1.2"/>
<path class="g" d="M790.0 167.2L789.3 167.7L788.6 168.1L787.9 168.4L787.1 168.6L786.4 168.6L785.7 168.5L785.1 168.3L784.5 168.0L784.0 167.5L783.6 167.0L783.3 166.3L783.1 165.6L782.9 164.8L782.9 164.0L783.0 163.1L783.2 162.2L783.5 161.4" style="stroke-width:2;stroke-dasharray:1 1.2"/>
<path class="g" d="M763.0 128.0L773.0 133.0" style="stroke-width:2"/>
<path class="g" d="M772.0 132.5L793.0 143.5" />
<path class="g" d="M746.0 164.0L765.0 174.0" style="stroke-width:1.4"/>
</g>
<!-- 50_blower.py -->
<g>
<path class="w" d="M595.3 423.6L594.2 423.2L592.9 423.1L591.6 423.2L590.3 423.6L588.9 424.2L587.6 425.1L586.2 426.2L584.9 427.4L583.6 428.9L582.4 430.5L581.4 432.3L580.4 434.1L579.6 436.0L579.0 437.9L578.5 439.9L578.2 441.8L578.1 443.6L578.1 445.3L578.3 446.9L578.7 448.4L579.3 449.7L580.0 450.7L580.9 451.6L581.9 452.2L589.4 456.1L590.5 456.5L591.8 456.6L593.1 456.5L594.4 456.1L595.8 455.5L597.1 454.6L598.5 453.5L599.8 452.3L601.1 450.8L602.3 449.2L603.3 447.4L604.3 445.6L605.1 443.7L605.7 441.8L606.2 439.8L606.5 437.9L606.6 436.1L606.6 434.4L606.4 432.8L606.0 431.3L605.4 430.0L604.7 429.0L603.8 428.1L602.8 427.5Z" />
<path class="k" d="M595.3 423.6L594.0 423.2L592.7 423.1L591.3 423.3L589.8 423.8L588.3 424.6L586.8 425.6L585.3 427.0L584.0 428.5L582.7 430.2L581.5 432.1L580.4 434.1L579.6 436.2L578.9 438.3L578.4 440.4L578.1 442.4L578.1 444.4L578.2 446.2L578.6 447.9L579.1 449.3L579.9 450.6L580.8 451.5L581.9 452.2" style="stroke-width:1.4"/>
<ellipse class="w" cx="596.1" cy="441.8" rx="15.8" ry="9.0" transform="rotate(-65.0 596.1 441.8)" style="stroke-width:1.4"/>
<ellipse class="k" cx="596.1" cy="441.8" rx="12.5" ry="7.0" transform="rotate(-65.0 596.1 441.8)" style="stroke-width:1.2"/>
<ellipse class="k" cx="596.1" cy="441.8" rx="10.3" ry="5.7" transform="rotate(-65.0 596.1 441.8)" style="stroke-width:2;stroke-dasharray:1.2 1.2"/>
<ellipse class="k" cx="596.1" cy="441.8" rx="8.0" ry="4.4" transform="rotate(-65.0 596.1 441.8)" style="stroke-width:1.3"/>
<ellipse class="k" cx="596.1" cy="441.8" rx="5.0" ry="2.8" transform="rotate(-65.0 596.1 441.8)" style="stroke-width:1.5"/>
<ellipse class="w" cx="613.5" cy="454.0" rx="12.0" ry="7.5" transform="rotate(-67.0 613.5 454.0)" style="stroke-width:1.5"/>
<ellipse class="w" cx="617.5" cy="456.0" rx="12.0" ry="7.5" transform="rotate(-67.0 617.5 456.0)" style="stroke-width:1.5"/>
<ellipse class="w" cx="621.5" cy="458.2" rx="12.0" ry="7.5" transform="rotate(-67.0 621.5 458.2)" style="stroke-width:1.5"/>
<ellipse class="w" cx="625.2" cy="460.2" rx="12.0" ry="7.5" transform="rotate(-67.0 625.2 460.2)" style="stroke-width:1.6"/>
<ellipse class="k" cx="625.2" cy="460.2" rx="7.5" ry="4.6" transform="rotate(-67.0 625.2 460.2)" style="stroke-width:1.4"/>
<ellipse class="k" cx="625.2" cy="460.2" rx="4.6" ry="2.8" transform="rotate(-67.0 625.2 460.2)" style="stroke-width:1.4"/>
<path class="k" d="M633.4 436.8L639.7 440.6" style="stroke-width:2.2"/>
<circle cx="633.4" cy="436.8" r="1.7" fill="#111"/>
<path class="w" d="M640.5 434.5l2.5 10.5q2 3 4.5 0l0.5 -6l-3 -6z" style="stroke-width:1.5"/>
<ellipse class="w" cx="642.6" cy="430.7" rx="3.6" ry="3.0" transform="rotate(-60.0 642.6 430.7)" style="stroke-width:2.2"/>
<ellipse class="k" cx="645.3" cy="444.6" rx="1.8" ry="1.4" transform="rotate(-40.0 645.3 444.6)" style="stroke-width:1.3"/>
<path class="k" d="M642 438.5l4.5 -2M642.8 441.5l4.5 -2" />
<path class="w" d="M621.0 530.0L618.6 560.5L650.7 577.8L655.6 572.9L676.6 556.0L700.0 540.0L660.0 520.0Z" style="stroke-width:1.2"/>
<path class="k" d="M621 548l30 16l4 -3M626 557l24 13M650.7 577.8l0.3 -13" />
<path class="k" d="M640 540q6 18 16 32" />
<ellipse class="w" cx="690.0" cy="497.0" rx="60.0" ry="40.0" transform="rotate(-70.0 690.0 497.0)" style="stroke-width:1.5"/>
<path class="k" d="M667.3 457.9L672.5 452.5L678.0 448.0L683.6 444.5L689.4 442.1L695.2 440.7L700.8 440.5L706.1 441.5L711.1 443.5L715.6 446.6L719.5 450.8L722.8 455.9L725.3 461.8L727.1 468.3L728.1 475.5L728.3 483.1L727.7 490.9L726.2 498.9L723.9 506.8L721.0 514.5L717.3 521.8L713.0 528.5L708.3 534.6L703.1 539.9L697.6 544.3L691.9 547.7L686.1 550.1L680.3 551.3L674.8 551.4" style="stroke-width:0.9"/>
<path class="k" d="M724 511l5 3l-4 22l-8 6" style="stroke-width:1.2"/>
<path class="k" d="M676 556l34 -12l8 -4" />
<circle cx="710.5" cy="550" r="1.4" fill="#222"/><circle cx="716" cy="543" r="1.4" fill="#222"/>
<path class="w" d="M681.2 444.5L679.3 442.4L677.2 440.6L674.9 439.3L672.4 438.3L669.8 437.8L667.1 437.7L664.3 438.0L661.4 438.7L658.5 439.8L655.5 441.4L652.6 443.3L649.7 445.6L646.9 448.3L644.2 451.3L641.6 454.5L639.1 458.1L636.8 461.9L634.7 465.9L632.8 470.0L631.1 474.3L629.6 478.7L628.4 483.1L627.5 487.5L626.8 491.9L626.4 496.2L626.3 500.4L626.5 504.4L626.9 508.3L627.6 511.9L628.6 515.3L629.9 518.3L631.4 521.1L633.1 523.5L635.1 525.5L637.3 527.2L639.6 528.5L642.1 529.3L644.7 529.7L647.5 529.7L650.3 529.3L667.4 537.6L669.9 536.9L672.3 535.9L674.8 534.7L677.3 533.1L679.8 531.3L682.2 529.2L684.6 526.8L686.9 524.3L689.1 521.5L691.2 518.5L693.2 515.3L695.1 512.0L696.8 508.6L698.4 505.0L699.8 501.4L701.1 497.7L702.2 494.0L703.0 490.2L703.7 486.5L704.2 482.8L704.5 479.1L704.6 475.6L704.5 472.1L704.2 468.8L703.7 465.6L703.0 462.7L702.1 459.9L701.0 457.3L699.7 454.9L698.3 452.8Z" style="stroke-width:1.1"/>
<path class="k" d="M685.4 445.6L682.5 442.3L679.2 439.8L675.6 438.2L671.6 437.5L667.4 437.8L663.0 438.9L658.6 441.0L654.2 443.9L649.9 447.6L645.8 452.1L641.9 457.2L638.4 462.8L635.3 468.9L632.7 475.2L630.6 481.8L629.1 488.4L628.2 495.0L627.8 501.4L628.1 507.4L629.0 513.0L630.5 518.1L632.6 522.5L635.2 526.2L638.3 529.1L641.7 531.2L645.6 532.3L649.7 532.5L654.0 531.8" style="stroke-width:1.3"/>
<path class="k" d="M687.2 446.4L684.3 443.1L681.0 440.7L677.4 439.1L673.4 438.4L669.2 438.6L664.8 439.8L660.4 441.9L656.0 444.8L651.7 448.5L647.6 453.0L643.7 458.0L640.2 463.7L637.1 469.7L634.5 476.1L632.4 482.7L630.9 489.3L630.0 495.9L629.6 502.2L629.9 508.3L630.8 513.9L632.3 519.0L634.4 523.4L637.0 527.1L640.1 530.0L643.5 532.0L647.4 533.2L651.5 533.4L655.8 532.7" style="stroke-width:0.7"/>
<path class="k" d="M692.6 449.0L689.7 445.7L686.4 443.3L682.8 441.7L678.8 441.0L674.6 441.3L670.2 442.4L665.8 444.5L661.4 447.4L657.1 451.1L653.0 455.6L649.1 460.7L645.6 466.3L642.5 472.4L639.9 478.7L637.8 485.3L636.3 491.9L635.4 498.5L635.0 504.9L635.3 510.9L636.2 516.5L637.7 521.6L639.8 526.0L642.4 529.7L645.5 532.6L648.9 534.7L652.8 535.8L656.9 536.0L661.2 535.3" style="stroke-width:1.1"/>
<path class="k" d="M693.9 449.7L691.1 446.4L687.8 443.9L684.1 442.3L680.2 441.7L675.9 441.9L671.6 443.1L667.2 445.1L662.7 448.1L658.4 451.8L654.3 456.2L650.5 461.3L647.0 466.9L643.9 473.0L641.3 479.4L639.2 486.0L637.6 492.6L636.7 499.1L636.4 505.5L636.7 511.6L637.6 517.2L639.1 522.3L641.2 526.7L643.7 530.4L646.8 533.3L650.3 535.3L654.1 536.4L658.2 536.7L662.5 536.0" style="stroke-width:0.7"/>
<path class="k" d="M680.5 442.3L701.2 452.3" style="stroke-width:3.3"/>
<path class="k" d="M680.8 442.5L701.2 452.3" style="stroke-width:1;stroke:#fff"/>
<path class="k" d="M677.9 438.0L696.8 447.2" style="stroke-width:3.3"/>
<path class="k" d="M678.2 438.2L696.8 447.2" style="stroke-width:1;stroke:#fff"/>
<path class="k" d="M670.5 434.0L691.2 444.0" style="stroke-width:3.3"/>
<path class="k" d="M670.8 434.1L691.2 444.0" style="stroke-width:1;stroke:#fff"/>
<path class="k" d="M666.1 433.9L685.0 443.0" style="stroke-width:3.3"/>
<path class="k" d="M666.4 434.0L685.0 443.0" style="stroke-width:1;stroke:#fff"/>
<path class="k" d="M657.5 434.2L678.2 444.2" style="stroke-width:3.3"/>
<path class="k" d="M657.8 434.4L678.2 444.2" style="stroke-width:1;stroke:#fff"/>
<path class="k" d="M652.3 438.5L671.2 447.6" style="stroke-width:3.3"/>
<path class="k" d="M652.6 438.6L671.2 447.6" style="stroke-width:1;stroke:#fff"/>
<path class="k" d="M643.6 443.0L664.3 453.0" style="stroke-width:3.3"/>
<path class="k" d="M643.9 443.1L664.3 453.0" style="stroke-width:1;stroke:#fff"/>
<path class="k" d="M639.0 451.0L657.9 460.2" style="stroke-width:3.3"/>
<path class="k" d="M639.3 451.2L657.9 460.2" style="stroke-width:1;stroke:#fff"/>
<path class="k" d="M631.5 458.7L652.2 468.8" style="stroke-width:3.3"/>
<path class="k" d="M631.8 458.9L652.2 468.8" style="stroke-width:1;stroke:#fff"/>
<path class="k" d="M628.6 469.2L647.5 478.4" style="stroke-width:3.3"/>
<path class="k" d="M628.9 469.4L647.5 478.4" style="stroke-width:1;stroke:#fff"/>
<path class="k" d="M623.3 478.6L644.0 488.6" style="stroke-width:3.3"/>
<path class="k" d="M623.6 478.8L644.0 488.6" style="stroke-width:1;stroke:#fff"/>
<path class="k" d="M623.0 489.9L641.9 499.0" style="stroke-width:3.3"/>
<path class="k" d="M623.3 490.0L641.9 499.0" style="stroke-width:1;stroke:#fff"/>
<path class="k" d="M620.5 499.1L641.2 509.1" style="stroke-width:3.3"/>
<path class="k" d="M620.8 499.3L641.2 509.1" style="stroke-width:1;stroke:#fff"/>
<path class="k" d="M623.0 509.3L641.9 518.4" style="stroke-width:3.3"/>
<path class="k" d="M623.3 509.4L641.9 518.4" style="stroke-width:1;stroke:#fff"/>
<path class="k" d="M623.5 516.5L644.2 526.6" style="stroke-width:3.3"/>
<path class="k" d="M623.8 516.7L644.2 526.6" style="stroke-width:1;stroke:#fff"/>
<path class="k" d="M628.8 524.0L647.7 533.1" style="stroke-width:3.3"/>
<path class="k" d="M629.1 524.1L647.7 533.1" style="stroke-width:1;stroke:#fff"/>
<path class="k" d="M631.8 527.8L652.5 537.8" style="stroke-width:3.3"/>
<path class="k" d="M632.1 527.9L652.5 537.8" style="stroke-width:1;stroke:#fff"/>
<path class="k" d="M639.3 531.3L658.2 540.4" style="stroke-width:3.3"/>
<path class="k" d="M639.6 531.4L658.2 540.4" style="stroke-width:1;stroke:#fff"/>
<path class="k" d="M644.0 530.9L664.7 540.9" style="stroke-width:3.3"/>
<path class="k" d="M644.3 531.0L664.7 540.9" style="stroke-width:1;stroke:#fff"/>
<ellipse class="w" cx="675.0" cy="492.5" rx="50.0" ry="29.0" transform="rotate(-70.0 675.0 492.5)" style="stroke-width:1.2"/>
<ellipse class="k" cx="676.1" cy="493.4" rx="44.5" ry="26.5" transform="rotate(-70.0 676.1 493.4)" style="stroke-width:1.3"/>
<ellipse class="k" cx="676.1" cy="493.4" rx="41.0" ry="25.0" transform="rotate(-70.0 676.1 493.4)" style="stroke-width:1.7"/>
<ellipse class="k" cx="674.6" cy="492.4" rx="36.0" ry="21.5" transform="rotate(-70.0 674.6 492.4)" />
<ellipse class="k" cx="674.1" cy="491.9" rx="33.0" ry="19.5" transform="rotate(-70.0 674.1 491.9)" style="stroke-width:1.2"/>
<path class="k" d="M678.7 478.6L684.4 467.6" style="stroke-width:4.8"/>
<path class="k" d="M678.7 478.6L684.4 467.6" style="stroke-width:1.9;stroke:#fff"/>
<path class="k" d="M681.6 485.4L689.9 481.2" style="stroke-width:4.8"/>
<path class="k" d="M681.6 485.4L689.9 481.2" style="stroke-width:1.9;stroke:#fff"/>
<path class="k" d="M679.5 494.6L685.5 499.6" style="stroke-width:4.8"/>
<path class="k" d="M679.5 494.6L685.5 499.6" style="stroke-width:1.9;stroke:#fff"/>
<path class="k" d="M673.5 500.8L673.8 512.1" style="stroke-width:4.8"/>
<path class="k" d="M673.5 500.8L673.8 512.1" style="stroke-width:1.9;stroke:#fff"/>
<path class="k" d="M667.3 500.4L661.6 511.4" style="stroke-width:4.8"/>
<path class="k" d="M667.3 500.4L661.6 511.4" style="stroke-width:1.9;stroke:#fff"/>
<path class="k" d="M664.4 493.6L656.1 497.8" style="stroke-width:4.8"/>
<path class="k" d="M664.4 493.6L656.1 497.8" style="stroke-width:1.9;stroke:#fff"/>
<path class="k" d="M666.5 484.4L660.5 479.4" style="stroke-width:4.8"/>
<path class="k" d="M666.5 484.4L660.5 479.4" style="stroke-width:1.9;stroke:#fff"/>
<path class="k" d="M672.5 478.2L672.2 466.9" style="stroke-width:4.8"/>
<path class="k" d="M672.5 478.2L672.2 466.9" style="stroke-width:1.9;stroke:#fff"/>
<ellipse class="w" cx="673.0" cy="489.5" rx="11.5" ry="7.5" transform="rotate(-70.0 673.0 489.5)" style="stroke-width:2.4"/>
<ellipse class="k" cx="673.0" cy="489.5" rx="8.5" ry="5.5" transform="rotate(-70.0 673.0 489.5)" style="stroke-width:1.2"/>
<ellipse class="k" cx="673.5" cy="489.8" rx="6.0" ry="3.8" transform="rotate(-70.0 673.5 489.8)" style="stroke-width:1.5"/>
<circle cx="681.7" cy="483.2" r="1.6" class="w" style="stroke-width:1"/>
<circle cx="675.6" cy="499.9" r="1.6" class="w" style="stroke-width:1"/>
<circle cx="664.3" cy="495.8" r="1.6" class="w" style="stroke-width:1"/>
<circle cx="670.4" cy="479.1" r="1.6" class="w" style="stroke-width:1"/>
<circle cx="694.5" cy="466.5" r="1.3" fill="#111"/>
<path class="k" d="M689.5 463.7L694.5 466.5" style="stroke-width:1.4"/>
<circle cx="657.0" cy="498.0" r="1.3" fill="#111"/>
<path class="k" d="M652.0 495.2L657.0 498.0" style="stroke-width:1.4"/>
<circle cx="683.0" cy="521.5" r="1.3" fill="#111"/>
<path class="k" d="M678.0 518.7L683.0 521.5" style="stroke-width:1.4"/>
<circle cx="668.0" cy="527.0" r="1.3" fill="#111"/>
<path class="k" d="M663.0 524.2L668.0 527.0" style="stroke-width:1.4"/>
<path class="k" d="M684.0 521.0L703.0 507.0" style="stroke-width:2.6"/>
<path class="k" d="M684.0 521.0L703.0 507.0" style="stroke-width:1;stroke:#fff"/>
<path class="k" d="M668.0 538.0L690.0 529.0" style="stroke-width:2.6"/>
<path class="k" d="M668.0 538.0L690.0 529.0" style="stroke-width:1;stroke:#fff"/>
<path class="w" d="M783.9 484.7L779.0 483.0L773.7 482.4L768.1 482.7L762.5 484.0L756.7 486.3L751.1 489.4L745.6 493.5L740.3 498.3L735.4 503.8L730.8 509.9L726.8 516.6L723.4 523.6L720.5 530.9L718.4 538.4L716.9 545.8L716.2 553.2L716.2 560.4L717.0 567.1L718.5 573.4L720.7 579.2L723.6 584.2L727.1 588.5L731.1 592.0L735.7 594.5L750.7 603.0L755.6 604.7L760.9 605.3L766.5 605.0L772.1 603.7L777.9 601.4L783.5 598.3L789.0 594.2L794.3 589.4L799.2 583.9L803.8 577.8L807.8 571.1L811.2 564.1L814.1 556.8L816.2 549.3L817.7 541.9L818.4 534.5L818.4 527.3L817.6 520.6L816.1 514.3L813.9 508.5L811.0 503.5L807.5 499.2L803.5 495.7L798.9 493.2Z" />
<path class="k" d="M783.9 484.7L778.5 482.9L772.7 482.4L766.6 483.0L760.4 484.7L754.2 487.6L748.1 491.5L742.2 496.4L736.7 502.2L731.6 508.8L727.2 515.9L723.4 523.6L720.3 531.6L718.0 539.7L716.6 547.9L716.1 555.8L716.5 563.5L717.7 570.6L719.8 577.2L722.7 582.9L726.4 587.8L730.7 591.7L735.7 594.5" style="stroke-width:1.3"/>
<ellipse class="w" cx="774.8" cy="548.1" rx="60.0" ry="39.8" transform="rotate(-66.3 774.8 548.1)" style="stroke-width:1.4"/>
<path class="k" d="M797.9 495.4Q798.9 505.8 792.5 513.0" style="stroke-width:1.9"/>
<path class="t" d="M800.3 496.6L791.7 504.2" style="stroke-width:0.8"/>
<path class="k" d="M802.8 498.3Q802.5 509.2 795.5 515.6" style="stroke-width:1.9"/>
<path class="t" d="M804.9 500.0L795.8 506.3" style="stroke-width:0.8"/>
<path class="k" d="M807.1 502.3Q805.5 513.5 798.0 518.9" style="stroke-width:1.9"/>
<path class="t" d="M808.9 504.5L799.5 509.3" style="stroke-width:0.8"/>
<path class="k" d="M810.7 507.3Q807.8 518.6 800.0 522.8" style="stroke-width:1.9"/>
<path class="t" d="M812.1 509.9L802.5 513.2" style="stroke-width:0.8"/>
<path class="k" d="M813.5 513.2Q809.4 524.3 801.4 527.3" style="stroke-width:1.9"/>
<path class="t" d="M814.5 516.2L804.9 517.9" style="stroke-width:0.8"/>
<path class="k" d="M815.4 519.9Q810.2 530.6 802.2 532.3" style="stroke-width:1.9"/>
<path class="t" d="M816.0 523.2L806.7 523.2" style="stroke-width:0.8"/>
<path class="k" d="M816.4 527.2Q810.2 537.2 802.4 537.6" style="stroke-width:1.9"/>
<path class="t" d="M816.6 530.8L807.6 529.1" style="stroke-width:0.8"/>
<path class="k" d="M816.5 535.0Q809.5 544.1 801.9 543.1" style="stroke-width:1.9"/>
<path class="t" d="M816.2 538.7L807.9 535.4" style="stroke-width:0.8"/>
<path class="k" d="M815.6 543.1Q807.9 551.1 800.8 548.7" style="stroke-width:1.9"/>
<path class="t" d="M814.9 546.9L807.4 541.9" style="stroke-width:0.8"/>
<path class="k" d="M813.9 551.3Q805.6 558.0 799.1 554.3" style="stroke-width:1.9"/>
<path class="t" d="M812.7 555.1L806.1 548.6" style="stroke-width:0.8"/>
<path class="k" d="M811.2 559.4Q802.7 564.7 796.8 559.8" style="stroke-width:1.9"/>
<path class="t" d="M809.7 563.1L804.1 555.3" style="stroke-width:0.8"/>
<path class="k" d="M807.8 567.3Q799.1 571.0 794.0 564.9" style="stroke-width:1.9"/>
<path class="t" d="M805.9 570.8L801.4 561.8" style="stroke-width:0.8"/>
<path class="k" d="M803.6 574.7Q794.9 576.9 790.8 569.7" style="stroke-width:1.9"/>
<path class="t" d="M801.4 578.0L798.1 567.9" style="stroke-width:0.8"/>
<path class="k" d="M798.7 581.6Q790.3 582.0 787.2 574.0" style="stroke-width:1.9"/>
<path class="t" d="M796.3 584.5L794.3 573.7" style="stroke-width:0.8"/>
<path class="k" d="M793.4 587.7Q785.4 586.4 783.3 577.7" style="stroke-width:1.9"/>
<path class="t" d="M790.7 590.2L790.0 578.8" style="stroke-width:0.8"/>
<path class="k" d="M787.6 592.9Q780.2 590.0 779.1 580.7" style="stroke-width:1.9"/>
<path class="t" d="M784.8 595.0L785.3 583.2" style="stroke-width:0.8"/>
<path class="k" d="M781.5 597.1Q774.9 592.6 774.9 583.0" style="stroke-width:1.9"/>
<path class="t" d="M778.6 598.7L780.4 586.9" style="stroke-width:0.8"/>
<path class="k" d="M775.3 600.2Q769.6 594.2 770.6 584.5" style="stroke-width:1.9"/>
<path class="t" d="M772.4 601.3L775.4 589.7" style="stroke-width:0.8"/>
<path class="k" d="M769.1 602.2Q764.4 594.8 766.4 585.2" style="stroke-width:1.9"/>
<path class="t" d="M766.2 602.7L770.3 591.5" style="stroke-width:0.8"/>
<path class="k" d="M763.0 602.9Q759.5 594.4 762.4 585.0" style="stroke-width:1.9"/>
<path class="t" d="M760.2 602.8L765.3 592.3" style="stroke-width:0.8"/>
<path class="k" d="M757.1 602.4Q754.9 592.9 758.6 584.0" style="stroke-width:1.9"/>
<path class="t" d="M754.5 601.8L760.4 592.2" style="stroke-width:0.8"/>
<path class="k" d="M751.7 600.8Q750.7 590.4 755.1 582.2" style="stroke-width:1.9"/>
<path class="t" d="M749.3 599.6L755.9 591.0" style="stroke-width:0.8"/>
<path class="k" d="M746.8 597.9Q747.1 587.0 752.1 579.6" style="stroke-width:1.9"/>
<path class="t" d="M744.7 596.2L751.8 588.9" style="stroke-width:0.8"/>
<path class="k" d="M742.5 593.9Q744.1 582.7 749.6 576.3" style="stroke-width:1.9"/>
<path class="t" d="M740.7 591.7L748.1 585.9" style="stroke-width:0.8"/>
<path class="k" d="M738.9 588.9Q741.8 577.6 747.6 572.4" style="stroke-width:1.9"/>
<path class="t" d="M737.5 586.3L745.1 582.0" style="stroke-width:0.8"/>
<path class="k" d="M736.1 583.0Q740.2 571.9 746.2 567.9" style="stroke-width:1.9"/>
<path class="t" d="M735.1 580.0L742.7 577.3" style="stroke-width:0.8"/>
<path class="k" d="M734.2 576.3Q739.4 565.6 745.4 562.9" style="stroke-width:1.9"/>
<path class="t" d="M733.6 573.0L740.9 572.0" style="stroke-width:0.8"/>
<path class="k" d="M733.2 569.0Q739.4 559.0 745.2 557.6" style="stroke-width:1.9"/>
<path class="t" d="M733.0 565.4L740.0 566.1" style="stroke-width:0.8"/>
<path class="k" d="M733.1 561.2Q740.1 552.1 745.7 552.1" style="stroke-width:1.9"/>
<path class="t" d="M733.4 557.5L739.7 559.8" style="stroke-width:0.8"/>
<path class="k" d="M734.0 553.1Q741.7 545.1 746.8 546.5" style="stroke-width:1.9"/>
<path class="t" d="M734.7 549.3L740.2 553.3" style="stroke-width:0.8"/>
<path class="k" d="M735.7 544.9Q744.0 538.2 748.5 540.9" style="stroke-width:1.9"/>
<path class="t" d="M736.9 541.1L741.5 546.6" style="stroke-width:0.8"/>
<path class="k" d="M738.4 536.8Q746.9 531.5 750.8 535.4" style="stroke-width:1.9"/>
<path class="t" d="M739.9 533.1L743.5 539.9" style="stroke-width:0.8"/>
<path class="k" d="M741.8 528.9Q750.5 525.2 753.6 530.3" style="stroke-width:1.9"/>
<path class="t" d="M743.7 525.4L746.2 533.4" style="stroke-width:0.8"/>
<path class="k" d="M746.0 521.5Q754.7 519.3 756.8 525.5" style="stroke-width:1.9"/>
<path class="t" d="M748.2 518.2L749.5 527.3" style="stroke-width:0.8"/>
<path class="k" d="M750.9 514.6Q759.3 514.2 760.4 521.2" style="stroke-width:1.9"/>
<path class="t" d="M753.3 511.7L753.3 521.5" style="stroke-width:0.8"/>
<path class="k" d="M756.2 508.5Q764.2 509.8 764.3 517.5" style="stroke-width:1.9"/>
<path class="t" d="M758.9 506.0L757.6 516.4" style="stroke-width:0.8"/>
<path class="k" d="M762.0 503.3Q769.4 506.2 768.5 514.5" style="stroke-width:1.9"/>
<path class="t" d="M764.8 501.2L762.3 512.0" style="stroke-width:0.8"/>
<path class="k" d="M768.1 499.1Q774.7 503.6 772.7 512.2" style="stroke-width:1.9"/>
<path class="t" d="M771.0 497.5L767.2 508.3" style="stroke-width:0.8"/>
<path class="k" d="M774.3 496.0Q780.0 502.0 777.0 510.7" style="stroke-width:1.9"/>
<path class="t" d="M777.2 494.9L772.2 505.5" style="stroke-width:0.8"/>
<path class="k" d="M780.5 494.0Q785.2 501.4 781.2 510.0" style="stroke-width:1.9"/>
<path class="t" d="M783.4 493.5L777.3 503.7" style="stroke-width:0.8"/>
<path class="k" d="M786.6 493.3Q790.1 501.8 785.2 510.2" style="stroke-width:1.9"/>
<path class="t" d="M789.4 493.4L782.3 502.9" style="stroke-width:0.8"/>
<path class="k" d="M792.5 493.8Q794.7 503.3 789.0 511.2" style="stroke-width:1.9"/>
<path class="t" d="M795.1 494.4L787.2 503.0" style="stroke-width:0.8"/>
<ellipse class="k" cx="774.8" cy="548.1" rx="57.5" ry="38.0" transform="rotate(-66.3 774.8 548.1)" />
<ellipse class="k" cx="773.8" cy="547.6" rx="39.5" ry="26.0" transform="rotate(-66.3 773.8 547.6)" style="stroke-width:1.8"/>
<ellipse class="w" cx="773.3" cy="547.3" rx="37.0" ry="24.3" transform="rotate(-66.3 773.3 547.3)" style="stroke-width:1.3"/>
<ellipse class="k" cx="772.8" cy="547.1" rx="34.0" ry="22.3" transform="rotate(-66.3 772.8 547.1)" />
<path class="k" d="M777.8 540.2L789.6 518.9" style="stroke-width:3.8"/>
<path class="k" d="M777.8 540.2L789.6 518.9" style="stroke-width:1.4;stroke:#fff"/>
<path class="k" d="M780.1 545.0L797.7 536.6" style="stroke-width:3.8"/>
<path class="k" d="M780.1 545.0L797.7 536.6" style="stroke-width:1.4;stroke:#fff"/>
<path class="k" d="M778.4 551.5L791.6 561.0" style="stroke-width:3.8"/>
<path class="k" d="M778.4 551.5L791.6 561.0" style="stroke-width:1.4;stroke:#fff"/>
<path class="k" d="M773.9 556.0L774.9 577.8" style="stroke-width:3.8"/>
<path class="k" d="M773.9 556.0L774.9 577.8" style="stroke-width:1.4;stroke:#fff"/>
<path class="k" d="M769.2 555.8L757.4 577.1" style="stroke-width:3.8"/>
<path class="k" d="M769.2 555.8L757.4 577.1" style="stroke-width:1.4;stroke:#fff"/>
<path class="k" d="M766.9 551.0L749.3 559.4" style="stroke-width:3.8"/>
<path class="k" d="M766.9 551.0L749.3 559.4" style="stroke-width:1.4;stroke:#fff"/>
<path class="k" d="M768.6 544.5L755.4 535.0" style="stroke-width:3.8"/>
<path class="k" d="M768.6 544.5L755.4 535.0" style="stroke-width:1.4;stroke:#fff"/>
<path class="k" d="M773.1 540.0L772.1 518.2" style="stroke-width:3.8"/>
<path class="k" d="M773.1 540.0L772.1 518.2" style="stroke-width:1.4;stroke:#fff"/>
<ellipse class="w" cx="791.0" cy="530.1" rx="3.0" ry="2.1" transform="rotate(-66.3 791.0 530.1)" style="stroke-width:1.5"/>
<path class="k" d="M788.5 528.7L785.0 526.9" style="stroke-width:1.8"/>
<ellipse class="w" cx="792.0" cy="548.5" rx="3.0" ry="2.1" transform="rotate(-66.3 792.0 548.5)" style="stroke-width:1.5"/>
<path class="k" d="M789.5 547.1L786.0 545.3" style="stroke-width:1.8"/>
<ellipse class="w" cx="782.1" cy="566.5" rx="3.0" ry="2.1" transform="rotate(-66.3 782.1 566.5)" style="stroke-width:1.5"/>
<path class="k" d="M779.6 565.1L776.1 563.3" style="stroke-width:1.8"/>
<ellipse class="w" cx="767.2" cy="573.7" rx="3.0" ry="2.1" transform="rotate(-66.3 767.2 573.7)" style="stroke-width:1.5"/>
<path class="k" d="M764.7 572.3L761.2 570.5" style="stroke-width:1.8"/>
<ellipse class="w" cx="756.0" cy="565.9" rx="3.0" ry="2.1" transform="rotate(-66.3 756.0 565.9)" style="stroke-width:1.5"/>
<path class="k" d="M753.5 564.5L750.0 562.7" style="stroke-width:1.8"/>
<ellipse class="w" cx="755.0" cy="547.5" rx="3.0" ry="2.1" transform="rotate(-66.3 755.0 547.5)" style="stroke-width:1.5"/>
<path class="k" d="M752.5 546.1L749.0 544.3" style="stroke-width:1.8"/>
<ellipse class="w" cx="764.9" cy="529.5" rx="3.0" ry="2.1" transform="rotate(-66.3 764.9 529.5)" style="stroke-width:1.5"/>
<path class="k" d="M762.4 528.1L758.9 526.3" style="stroke-width:1.8"/>
<ellipse class="w" cx="779.8" cy="522.3" rx="3.0" ry="2.1" transform="rotate(-66.3 779.8 522.3)" style="stroke-width:1.5"/>
<path class="k" d="M777.3 520.9L773.8 519.1" style="stroke-width:1.8"/>
<ellipse class="w" cx="773.5" cy="548.0" rx="14.0" ry="9.3" transform="rotate(-66.3 773.5 548.0)" style="stroke-width:1.5"/>
<ellipse class="k" cx="773.5" cy="548.0" rx="9.0" ry="6.0" transform="rotate(-66.3 773.5 548.0)" style="stroke-width:2"/>
<ellipse class="k" cx="774.0" cy="548.3" rx="5.6" ry="3.7" transform="rotate(-66.3 774.0 548.3)" style="stroke-width:1.2"/>
<path class="k" d="M807.5 640q-5 12 -1.5 22l8 7l2.5 -4q-5 -9 -1 -21M810 643q14 8 33 6M812 666l8 -16l22 -1" style="stroke-width:1.4"/>
<circle cx="806.5" cy="663" r="2" class="w" style="stroke-width:1.4"/><circle cx="813" cy="668.5" r="2" class="w" style="stroke-width:1.4"/>
<ellipse class="w" cx="844.5" cy="588.8" rx="61.5" ry="46.0" transform="rotate(-75.0 844.5 588.8)" style="stroke-width:1.2"/>
<ellipse class="w" cx="847.0" cy="590.0" rx="61.5" ry="46.0" transform="rotate(-75.0 847.0 590.0)" style="stroke-width:1.9"/>
<ellipse class="k" cx="847.0" cy="590.0" rx="58.5" ry="43.7" transform="rotate(-75.0 847.0 590.0)" />
<path class="w" d="M858.4 555.6L859.7 551.4L861.7 547.4L864.2 543.6L867.2 540.2L870.8 537.3L874.7 540.0L870.9 542.4L867.7 545.4L865.0 548.8L862.7 552.5L861.1 556.5Z" style="stroke-width:1.45"/>
<path class="w" d="M864.5 558.3L866.5 554.6L869.0 551.3L872.0 548.4L875.4 546.0L879.2 544.3L882.3 548.2L878.5 549.4L875.0 551.3L871.8 553.7L869.1 556.7L866.8 560.1Z" style="stroke-width:1.45"/>
<path class="w" d="M869.6 563.0L872.2 560.0L875.1 557.5L878.4 555.6L882.0 554.4L885.8 554.0L888.0 558.8L884.2 558.7L880.6 559.4L877.3 560.8L874.2 562.9L871.5 565.5Z" style="stroke-width:1.45"/>
<path class="w" d="M873.6 569.3L876.5 567.1L879.6 565.7L883.0 564.9L886.5 564.9L890.2 565.7L891.3 571.3L887.8 569.9L884.4 569.4L881.0 569.7L877.9 570.7L874.9 572.4Z" style="stroke-width:1.45"/>
<path class="w" d="M876.2 576.9L879.2 575.7L882.3 575.3L885.6 575.7L888.8 576.8L892.0 578.9L892.0 584.9L889.1 582.3L886.0 580.6L882.9 579.8L879.8 579.7L876.8 580.4Z" style="stroke-width:1.45"/>
<path class="w" d="M877.1 585.3L880.1 585.1L883.1 585.8L886.0 587.3L888.7 589.6L891.2 592.7L890.1 598.7L887.9 595.2L885.4 592.4L882.8 590.5L879.9 589.3L877.0 589.1Z" style="stroke-width:1.45"/>
<path class="w" d="M876.4 594.0L879.2 594.9L881.8 596.6L884.1 599.1L886.2 602.4L887.9 606.4L885.7 612.1L884.4 607.7L882.7 604.1L880.6 601.2L878.2 599.1L875.6 597.8Z" style="stroke-width:1.45"/>
<path class="w" d="M874.1 602.6L876.5 604.5L878.5 607.1L880.2 610.4L881.5 614.4L882.3 619.2L879.1 624.2L878.8 619.3L877.9 615.0L876.5 611.4L874.8 608.4L872.6 606.2Z" style="stroke-width:1.45"/>
<path class="w" d="M870.3 610.6L872.1 613.2L873.5 616.6L874.4 620.6L874.8 625.1L874.5 630.2L870.7 634.3L871.3 629.2L871.4 624.5L870.8 620.3L869.8 616.7L868.3 613.7Z" style="stroke-width:1.45"/>
<path class="w" d="M865.3 617.4L866.4 620.7L867.0 624.6L867.0 629.0L866.5 633.8L865.2 638.9L860.8 641.9L862.5 636.8L863.5 632.0L863.8 627.5L863.6 623.5L862.8 619.9Z" style="stroke-width:1.45"/>
<path class="w" d="M859.3 622.7L859.7 626.5L859.4 630.7L858.6 635.2L857.1 639.9L854.9 644.8L850.2 646.4L852.8 641.7L854.7 637.1L855.9 632.6L856.5 628.4L856.5 624.4Z" style="stroke-width:1.45"/>
<path class="w" d="M852.7 626.1L852.3 630.2L851.2 634.4L849.5 638.8L847.1 643.2L844.1 647.5L839.4 647.7L842.8 643.7L845.5 639.5L847.5 635.3L849.0 631.1L849.8 627.0Z" style="stroke-width:1.45"/>
<path class="w" d="M845.9 627.6L844.7 631.6L842.8 635.6L840.3 639.6L837.2 643.4L833.5 646.9L829.1 645.6L833.0 642.5L836.4 639.1L839.2 635.3L841.4 631.5L843.0 627.5Z" style="stroke-width:1.45"/>
<path class="w" d="M839.2 626.9L837.3 630.7L834.7 634.2L831.5 637.5L827.9 640.5L823.7 643.0L819.8 640.3L824.1 638.3L828.0 635.8L831.4 632.8L834.2 629.5L836.5 625.9Z" style="stroke-width:1.45"/>
<path class="w" d="M833.1 624.1L830.5 627.4L827.4 630.3L823.7 632.8L819.7 634.7L815.2 636.0L812.1 632.1L816.6 631.4L820.8 629.9L824.5 627.9L827.9 625.4L830.8 622.3Z" style="stroke-width:1.45"/>
<path class="w" d="M828.0 619.5L824.8 622.1L821.2 624.1L817.3 625.5L813.1 626.3L808.6 626.4L806.5 621.5L810.9 622.0L815.1 621.7L819.1 620.8L822.7 619.2L826.1 616.9Z" style="stroke-width:1.45"/>
<path class="w" d="M824.0 613.2L820.5 614.9L816.7 615.9L812.7 616.3L808.6 615.8L804.3 614.6L803.2 609.0L807.3 610.8L811.3 611.8L815.3 611.9L819.1 611.4L822.7 610.0Z" style="stroke-width:1.45"/>
<path class="w" d="M821.4 605.6L817.8 606.4L814.0 606.3L810.1 605.5L806.3 603.9L802.4 601.4L802.5 595.5L806.0 598.4L809.7 600.5L813.4 601.8L817.2 602.4L820.8 602.0Z" style="stroke-width:1.45"/>
<path class="w" d="M820.5 597.2L816.9 596.9L813.3 595.8L809.7 593.9L806.4 591.2L803.2 587.6L804.3 581.6L807.2 585.6L810.3 588.8L813.6 591.1L817.0 592.7L820.6 593.4Z" style="stroke-width:1.45"/>
<path class="w" d="M821.2 588.4L817.8 587.1L814.6 585.0L811.6 582.1L808.9 578.4L806.5 573.9L808.7 568.2L810.7 573.0L813.0 577.1L815.7 580.4L818.7 582.9L822.0 584.7Z" style="stroke-width:1.45"/>
<path class="w" d="M823.5 579.9L820.5 577.6L817.8 574.5L815.5 570.8L813.6 566.3L812.2 561.2L815.3 556.1L816.3 561.5L817.8 566.2L819.8 570.2L822.2 573.7L825.0 576.3Z" style="stroke-width:1.45"/>
<path class="w" d="M827.3 571.9L824.8 568.8L822.8 565.0L821.3 560.6L820.3 555.6L819.9 550.1L823.8 546.0L823.8 551.6L824.3 556.7L825.5 561.3L827.1 565.4L829.3 568.8Z" style="stroke-width:1.45"/>
<path class="w" d="M832.3 565.1L830.5 561.3L829.3 557.0L828.7 552.2L828.6 546.9L829.2 541.4L833.6 538.4L832.6 544.0L832.2 549.2L832.5 554.1L833.3 558.6L834.8 562.6Z" style="stroke-width:1.45"/>
<path class="w" d="M838.3 559.8L837.3 555.6L836.9 550.9L837.2 546.0L838.0 540.8L839.6 535.5L844.2 533.9L842.3 539.0L841.1 544.1L840.4 549.0L840.4 553.7L841.1 558.1Z" style="stroke-width:1.45"/>
<path class="w" d="M844.9 556.4L844.7 551.9L845.2 547.2L846.3 542.4L848.0 537.5L850.4 532.8L855.0 532.6L852.3 537.1L850.3 541.7L848.8 546.3L848.0 551.0L847.8 555.5Z" style="stroke-width:1.45"/>
<path class="w" d="M851.7 554.9L852.3 550.4L853.6 546.0L855.4 541.6L857.9 537.4L861.0 533.4L865.4 534.7L862.1 538.2L859.3 542.1L857.2 546.3L855.6 550.6L854.6 555.0Z" style="stroke-width:1.45"/>
<ellipse class="k" cx="848.8" cy="591.2" rx="36.9" ry="27.6" transform="rotate(-75.0 848.8 591.2)" style="stroke-width:1.3"/>
<path class="w" d="M853.4 582.5L855.5 578.6L858.2 575.2L861.5 572.5L865.2 570.6L869.2 569.7L873.4 569.9L875.3 575.2L871.4 574.0L867.4 573.9L863.7 574.9L860.2 576.8L857.2 579.6L854.7 583.0Z" style="stroke-width:1.45"/>
<path class="w" d="M856.6 584.6L859.6 582.3L863.0 580.8L866.5 580.4L870.0 581.1L873.5 582.8L876.7 585.7L876.3 591.9L873.7 588.2L870.6 585.6L867.4 584.1L864.0 583.6L860.6 584.2L857.5 585.8Z" style="stroke-width:1.45"/>
<path class="w" d="M858.5 588.5L861.6 588.3L864.7 589.1L867.6 591.0L870.2 593.9L872.2 597.9L873.6 602.7L871.1 608.4L870.4 603.1L869.0 598.6L867.0 595.0L864.6 592.4L861.7 590.8L858.7 590.2Z" style="stroke-width:1.45"/>
<path class="w" d="M858.6 593.4L861.1 595.2L863.2 598.1L864.7 601.8L865.6 606.3L865.7 611.5L864.9 617.2L860.7 621.0L862.2 615.4L862.9 610.1L862.7 605.3L861.8 601.1L860.3 597.7L858.1 595.1Z" style="stroke-width:1.45"/>
<path class="w" d="M856.8 598.0L858.1 601.5L858.6 605.7L858.4 610.3L857.3 615.3L855.3 620.5L852.5 625.6L847.6 626.8L851.1 622.2L853.7 617.3L855.5 612.5L856.4 607.7L856.5 603.3L855.8 599.5Z" style="stroke-width:1.45"/>
<path class="w" d="M853.7 601.5L853.3 605.7L852.1 610.2L850.0 614.6L847.2 618.9L843.6 622.9L839.2 626.3L834.8 624.5L839.5 621.9L843.6 618.7L846.9 614.9L849.6 610.8L851.4 606.5L852.4 602.2Z" style="stroke-width:1.45"/>
<path class="w" d="M849.9 602.9L847.9 606.9L845.1 610.5L841.7 613.8L837.6 616.3L833.1 618.1L828.2 618.9L825.3 614.5L830.1 614.7L834.8 613.9L839.0 612.2L842.8 609.6L846.0 606.4L848.5 602.8Z" style="stroke-width:1.45"/>
<path class="w" d="M846.3 601.9L843.1 604.7L839.3 606.7L835.2 607.9L830.8 608.0L826.3 607.2L821.9 605.1L821.1 599.2L825.1 602.2L829.3 604.0L833.6 604.7L837.8 604.4L841.7 603.1L845.2 601.0Z" style="stroke-width:1.45"/>
<path class="w" d="M843.7 598.8L839.9 599.7L836.0 599.5L832.0 598.3L828.2 596.0L824.8 592.7L821.7 588.2L823.3 582.1L825.6 587.2L828.5 591.3L831.9 594.4L835.5 596.4L839.3 597.4L843.1 597.3Z" style="stroke-width:1.45"/>
<path class="w" d="M842.7 594.3L839.2 593.0L835.8 590.6L832.9 587.3L830.5 583.0L828.8 577.9L827.8 572.0L831.3 567.1L831.5 573.2L832.5 578.7L834.2 583.5L836.6 587.4L839.5 590.4L842.8 592.5Z" style="stroke-width:1.45"/>
<path class="w" d="M843.6 589.3L841.0 586.2L839.0 582.1L837.7 577.4L837.2 572.0L837.5 566.2L838.7 560.2L843.4 557.6L841.4 563.4L840.4 569.0L840.2 574.5L840.8 579.5L842.2 584.0L844.3 587.7Z" style="stroke-width:1.45"/>
<path class="w" d="M846.1 585.2L845.0 580.8L844.7 575.9L845.2 570.7L846.6 565.5L848.9 560.4L851.9 555.5L856.7 555.9L853.1 560.0L850.3 564.6L848.3 569.5L847.1 574.5L846.8 579.4L847.3 584.0Z" style="stroke-width:1.45"/>
<path class="w" d="M849.6 582.7L850.2 578.0L851.6 573.4L853.8 569.0L856.7 565.0L860.3 561.6L864.4 559.0L868.2 562.2L863.9 563.8L860.1 566.4L856.8 569.6L854.1 573.5L852.2 577.8L851.0 582.3Z" style="stroke-width:1.45"/>
<ellipse class="w" cx="851.5" cy="593.1" rx="11.5" ry="8.6" transform="rotate(-75.0 851.5 593.1)" style="stroke-width:1.4"/>
<ellipse class="k" cx="851.5" cy="593.1" rx="8.4" ry="6.2" transform="rotate(-75.0 851.5 593.1)" style="stroke-width:1.3"/>
<ellipse class="k" cx="852.0" cy="593.1" rx="5.2" ry="3.8" transform="rotate(-75.0 852.0 593.1)" />
<circle cx="859.2" cy="528.8" r="1.7" class="w" style="stroke-width:1.4"/>
<circle cx="883.7" cy="543.8" r="1.7" class="w" style="stroke-width:1.4"/>
<circle cx="895.2" cy="582.9" r="1.7" class="w" style="stroke-width:1.4"/>
<circle cx="879.5" cy="629.1" r="1.7" class="w" style="stroke-width:1.4"/>
<circle cx="847.3" cy="650.9" r="1.7" class="w" style="stroke-width:1.4"/>
<circle cx="813.2" cy="639.6" r="1.7" class="w" style="stroke-width:1.4"/>
<circle cx="798.8" cy="599.2" r="1.7" class="w" style="stroke-width:1.4"/>
<circle cx="815.8" cy="549.3" r="1.7" class="w" style="stroke-width:1.4"/>
<path class="w" d="M894.9 616.9L892.5 619.8L888.8 619.1L887.5 615.5L889.9 612.6L893.6 613.3Z" />
<circle cx="891.2" cy="616.2" r="1.6" class="k"/>
<path class="k" d="M872.0 606.0L888.0 614.5" style="stroke-width:2.2"/>
<path class="k" d="M858 598l16 9l-2 8l-16 -8" style="stroke-width:1.3"/>
<circle cx="891" cy="548" r="1.4" fill="#111"/><circle cx="893" cy="588" r="1.4" fill="#111"/>
</g>
<!-- 60_plates.py -->
<g>
<path class="g" d="M547.6 409.4C550.8 408.3 553.4 410.2 557.1 412.3C560.9 414.4 567.8 417.8 570.1 421.8C572.4 425.8 572.2 432.0 571.0 436.3C569.8 440.6 567.1 444.5 562.9 447.9C558.6 451.3 550.6 453.9 545.5 456.6C540.4 459.3 536.5 461.5 532.4 463.9C528.3 466.3 525.1 468.2 520.8 471.1C516.4 474.0 510.6 479.2 506.3 481.3C502.0 483.4 498.3 484.2 494.7 483.5C491.1 482.8 486.4 480.2 484.5 476.9C482.6 473.6 482.4 468.7 483.1 463.9C483.8 459.1 486.5 452.0 488.9 447.9C491.3 443.8 493.5 440.9 497.6 439.2C501.7 437.5 508.4 438.9 513.5 437.7C518.6 436.5 524.0 435.0 528.1 431.9C532.2 428.8 535.0 422.6 538.2 418.9C541.5 415.1 544.5 410.5 547.6 409.4Z" style="stroke:#b4b4b4;stroke-width:1.1"/>
<path class="g" d="M556.0 413.0C559.7 412.0 563.2 415.5 566.0 418.0C568.8 420.5 572.0 424.2 572.5 428.0C573.0 431.8 571.8 437.3 569.0 441.0C566.2 444.7 560.8 447.2 556.0 450.0C551.2 452.8 544.7 455.2 540.0 457.5C535.3 459.8 531.8 461.8 528.0 464.0C524.2 466.2 520.5 468.6 517.0 471.0C513.5 473.4 510.2 476.8 507.0 478.5C503.8 480.2 500.6 481.6 498.0 481.0C495.4 480.4 492.3 478.2 491.5 475.0C490.7 471.8 491.8 466.0 493.0 462.0C494.2 458.0 496.5 453.9 499.0 451.0C501.5 448.1 504.5 446.0 508.0 444.5C511.5 443.0 515.8 443.4 520.0 442.0C524.2 440.6 529.0 439.0 533.0 436.0C537.0 433.0 540.2 427.8 544.0 424.0C547.8 420.2 552.3 414.0 556.0 413.0Z" style="stroke:#b4b4b4;stroke-width:1.1"/>
<path class="g" d="M563.0 427.5C564.8 426.4 566.0 427.8 566.0 429.5C566.0 431.2 565.5 434.5 563.0 438.0C560.5 441.5 553.8 448.3 551.0 450.5C548.2 452.7 547.3 451.5 546.5 451.0C545.7 450.5 544.6 450.0 546.0 447.5C547.4 445.0 552.2 439.3 555.0 436.0C557.8 432.7 561.2 428.6 563.0 427.5Z" style="stroke:#b4b4b4;stroke-width:1.1"/>
<path class="g" d="M502.0 449.0C503.9 447.6 509.0 446.2 512.0 446.5C515.0 446.8 518.5 448.9 520.0 451.0C521.5 453.1 522.0 457.2 521.0 459.0C520.0 460.8 516.7 462.1 514.0 462.0C511.3 461.9 507.2 459.7 505.0 458.5C502.8 457.3 501.0 456.6 500.5 455.0C500.0 453.4 500.1 450.4 502.0 449.0Z" style="stroke:#b4b4b4;stroke-width:1.1"/>
<path class="g" d="M503 455l8 -1.5l3 -6M528 463l3 -4l2 4l3 -4" style="stroke:#b4b4b4;stroke-width:1.1"/>
<circle cx="547.6" cy="409.6" r="1.6" fill="#b9b9b9"/>
<circle cx="559.5" cy="433.0" r="1.6" fill="#b9b9b9"/>
<circle cx="569.5" cy="438.5" r="1.6" fill="#b9b9b9"/>
<circle cx="525.0" cy="437.0" r="1.6" fill="#b9b9b9"/>
<circle cx="535.0" cy="442.0" r="1.6" fill="#b9b9b9"/>
<circle cx="541.0" cy="452.5" r="1.6" fill="#b9b9b9"/>
<circle cx="523.0" cy="463.0" r="1.6" fill="#b9b9b9"/>
<circle cx="513.0" cy="456.5" r="1.6" fill="#b9b9b9"/>
<circle cx="498.0" cy="438.5" r="1.6" fill="#b9b9b9"/>
<circle cx="507.0" cy="443.0" r="1.6" fill="#b9b9b9"/>
<circle cx="484.5" cy="476.5" r="1.6" fill="#b9b9b9"/>
<circle cx="494.5" cy="482.5" r="1.6" fill="#b9b9b9"/>
<path class="g" d="M496.3 428.7H509.5" style="stroke:#777;stroke-width:1.2"/>
<path class="g" d="M510 429.5l6 3.2" style="stroke:#999;stroke-width:2.4"/>
<path class="w" d="M593.9 570.5q-3 1 -1.8 4l76 42q3 1 4.5 -1.5q1 -2.5 -1.5 -4l-74 -40.5q-1.6 -0.8 -3.2 0z" style="stroke-width:1.2"/>
<path class="w" d="M538.0 614.8L545.0 606.0L555.0 598.5L566.0 592.0L578.0 586.0L591.7 579.3L664.7 619.1L654.0 623.0L643.3 628.7L630.4 639.5L611.0 650.2L598.0 647.0Z" style="stroke-width:1.2"/>
<path class="k" d="M544.4 608.3L613.2 645.9" style="stroke-width:1.3"/>
<path class="k" d="M554.1 600.8L630.4 638.4" style="stroke-width:1.3"/>
<path class="k" d="M563.8 593.3L643.3 628.7" style="stroke-width:1.3"/>
<path class="k" d="M574.5 586.9L656.2 623.4" style="stroke-width:1.3"/>
<path class="k" d="M585.3 581.5L664.7 619.1" style="stroke-width:1.3"/>
<path class="w" d="M523.5 611.5q-3.5 1.2 -2 4.5l75 43.5q3 1.2 5 -1q1.6 -2.8 -1 -4.6l-73.5 -42q-1.8 -1 -3.5 -0.4z" style="stroke-width:1.2"/>
<path class="t" d="M524.0 617.0L598.0 659.5" />
<path class="k" d="M567.5 599.6q4.2 -6.3 14.0 -6.3q-4.2 6.3 -14.0 6.3z" style="fill:#111;stroke-width:0.8"/>
<path class="k" d="M599.6 599.9q3.0 -4.5 10.0 -4.5q-3.0 4.5 -10.0 4.5z" style="fill:#111;stroke-width:0.8"/>
<path class="k" d="M624.2 601.5q2.4 -3.6 8.0 -3.6q-2.4 3.6 -8.0 3.6z" style="fill:#111;stroke-width:0.8"/>
<path class="k" d="M643.6 608.0q2.4 -3.6 8.0 -3.6q-2.4 3.6 -8.0 3.6z" style="fill:#111;stroke-width:0.8"/>
<path class="k" d="M568.5 616.4q3.6 -5.4 12.0 -5.4q-3.6 5.4 -12.0 5.4z" style="fill:#111;stroke-width:0.8"/>
<path class="k" d="M593.3 614.8q4.2 -6.3 14.0 -6.3q-4.2 6.3 -14.0 6.3z" style="fill:#111;stroke-width:0.8"/>
<path class="k" d="M625.4 614.9q3.0 -4.5 10.0 -4.5q-3.0 4.5 -10.0 4.5z" style="fill:#111;stroke-width:0.8"/>
<path class="k" d="M647.9 616.6q2.4 -3.6 8.0 -3.6q-2.4 3.6 -8.0 3.6z" style="fill:#111;stroke-width:0.8"/>
<path class="k" d="M556.0 629.3q2.1 -3.1 7.0 -3.1q-2.1 3.1 -7.0 3.1z" style="fill:#111;stroke-width:0.8"/>
<path class="k" d="M574.8 630.1q2.4 -3.6 8.0 -3.6q-2.4 3.6 -8.0 3.6z" style="fill:#111;stroke-width:0.8"/>
<path class="k" d="M595.3 631.0q3.0 -4.5 10.0 -4.5q-3.0 4.5 -10.0 4.5z" style="fill:#111;stroke-width:0.8"/>
<path class="k" d="M620.2 629.1q4.8 -7.2 16.0 -7.2q-4.8 7.2 -16.0 7.2z" style="fill:#111;stroke-width:0.8"/>
<path class="k" d="M581.8 643.2q2.1 -3.1 7.0 -3.1q-2.1 3.1 -7.0 3.1z" style="fill:#111;stroke-width:0.8"/>
<path class="k" d="M599.5 644.5q2.4 -3.6 8.0 -3.6q-2.4 3.6 -8.0 3.6z" style="fill:#111;stroke-width:0.8"/>
<ellipse class="w" cx="550.9" cy="611.6" rx="6.2" ry="2.6" transform="rotate(-35.0 550.9 611.6)" style="stroke-width:1.3"/>
<ellipse class="w" cx="598.2" cy="586.9" rx="6.2" ry="2.6" transform="rotate(-35.0 598.2 586.9)" style="stroke-width:1.3"/>
<ellipse class="k" cx="611.0" cy="615.0" rx="4.5" ry="3.0" transform="rotate(0.0 611.0 615.0)" />
<ellipse class="k" cx="524.8" cy="613.5" rx="2.3" ry="1.4" transform="rotate(0.0 524.8 613.5)" />
<ellipse class="k" cx="597.4" cy="657.5" rx="2.3" ry="1.4" transform="rotate(0.0 597.4 657.5)" />
<ellipse class="k" cx="596.6" cy="573.0" rx="2.3" ry="1.4" transform="rotate(0.0 596.6 573.0)" />
<ellipse class="k" cx="668.5" cy="613.5" rx="2.3" ry="1.4" transform="rotate(0.0 668.5 613.5)" />
<ellipse class="k" cx="563.0" cy="635.5" rx="2.3" ry="1.4" transform="rotate(0.0 563.0 635.5)" />
<ellipse class="k" cx="634.0" cy="594.5" rx="2.3" ry="1.4" transform="rotate(0.0 634.0 594.5)" />
<rect x="521.7" y="622.4" width="7.6" height="5" rx="1.5" fill="#222"/>
<ellipse class="k" cx="525.5" cy="622.4" rx="3.8" ry="2.0" transform="rotate(0.0 525.5 622.4)" style="fill:#555;stroke-width:1"/>
<rect x="593.3" y="664.3" width="7.6" height="5" rx="1.5" fill="#222"/>
<ellipse class="k" cx="597.1" cy="664.3" rx="3.8" ry="2.0" transform="rotate(0.0 597.1 664.3)" style="fill:#555;stroke-width:1"/>
<rect x="665.2" y="622.4" width="7.6" height="5" rx="1.5" fill="#222"/>
<ellipse class="k" cx="669.0" cy="622.4" rx="3.8" ry="2.0" transform="rotate(0.0 669.0 622.4)" style="fill:#555;stroke-width:1"/>
<path class="k" d="M613.2 654.5L620.0 657.2" style="stroke-width:2"/>
<circle cx="620.6" cy="657.6" r="1.9" fill="#111"/>
<path class="k" d="M672.0 621.0L679.5 623.2" style="stroke-width:2"/>
<circle cx="680.6" cy="623.6" r="1.9" fill="#111"/>
</g>
<!-- 80_axes_over.py -->
<g>
<path class="ax" d="M432.0 364.1L628.9 481.3"/>
<path class="ax" d="M431.7 416.8L618.4 528.9"/>
<path class="ax" d="M521.1 286.4L620.2 348.0"/>
<path class="ax" d="M743.1 196.6L816.6 241.1"/>
<path class="ax" d="M287.0 447.0L354.6 493.2"/>
<circle cx="514.2" cy="411.8" r="1.5" fill="#111"/>
<circle cx="521.3" cy="415.9" r="1.5" fill="#111"/>
<circle cx="460.6" cy="434.1" r="1.5" fill="#111"/>
</g>
<!-- 90_labels.py -->
<g>
<path d="M142.5 121.5L122.5 136.0" stroke="#222" stroke-width="0.9" fill="none"/>
<path d="M165.7 133.9L146.2 162.7" stroke="#222" stroke-width="0.9" fill="none"/>
<path d="M187.9 148.3L156.6 162.7" stroke="#222" stroke-width="0.9" fill="none"/>
<path d="M94.0 201.8L101.8 186.2" stroke="#222" stroke-width="0.9" fill="none"/>
<path d="M133.1 227.9L151.4 218.8" stroke="#222" stroke-width="0.9" fill="none"/>
<path d="M160.5 244.9L190.5 214.9" stroke="#222" stroke-width="0.9" fill="none"/>
<path d="M178.8 255.4L199.7 218.8" stroke="#222" stroke-width="0.9" fill="none"/>
<path d="M319.1 253.3L306.9 258.4" stroke="#222" stroke-width="0.9" fill="none"/>
<path d="M350.6 269.6L331.3 276.7" stroke="#222" stroke-width="0.9" fill="none"/>
<path d="M483.0 162.9L464.7 237.6" stroke="#222" stroke-width="0.9" fill="none"/>
<path d="M507.4 176.6L496.7 201.0" stroke="#222" stroke-width="0.9" fill="none"/>
<path d="M531.8 191.2L518.1 210.8" stroke="#222" stroke-width="0.9" fill="none"/>
<path d="M556.2 205.6L536.4 226.9" stroke="#222" stroke-width="0.9" fill="none"/>
<path d="M605.0 235.5L592.8 249.8" stroke="#222" stroke-width="0.9" fill="none"/>
<path d="M420.9 311.4L406.8 340.4" stroke="#222" stroke-width="0.9" fill="none"/>
<path d="M452.5 328.9L445.6 356.9" stroke="#222" stroke-width="0.9" fill="none"/>
<path d="M475.2 344.9L465.6 366.5" stroke="#222" stroke-width="0.9" fill="none"/>
<path d="M496.7 356.9L489.5 371.3" stroke="#222" stroke-width="0.9" fill="none"/>
<path d="M560.5 358.9L573.1 344.0" stroke="#222" stroke-width="0.9" fill="none"/>
<path d="M352.1 413.8L364.6 408.7" stroke="#222" stroke-width="0.9" fill="none"/>
<path d="M472.4 485.1L488.0 469.4" stroke="#222" stroke-width="0.9" fill="none"/>
<path d="M505.7 504.7L505.7 473.3" stroke="#222" stroke-width="0.9" fill="none"/>
<path d="M609.5 418.5L633.0 437.3" stroke="#222" stroke-width="0.9" fill="none"/>
<path d="M678.0 410.6L646.7 430.2" stroke="#222" stroke-width="0.9" fill="none"/>
<path d="M708.5 426.1L705.8 456.2" stroke="#222" stroke-width="0.9" fill="none"/>
<path d="M737.2 443.1L694.1 469.2" stroke="#222" stroke-width="0.9" fill="none"/>
<path d="M544.5 520.0L584.0 446.0" stroke="#222" stroke-width="0.9" fill="none"/>
<path d="M577.0 536.0L612.0 466.0" stroke="#222" stroke-width="0.9" fill="none"/>
<path d="M802.0 476.0L782.0 490.0" stroke="#222" stroke-width="0.9" fill="none"/>
<path d="M827.0 491.5L807.0 520.0" stroke="#222" stroke-width="0.9" fill="none"/>
<path d="M847.0 504.0L814.5 537.5" stroke="#222" stroke-width="0.9" fill="none"/>
<path d="M892.0 527.5L879.5 542.5" stroke="#222" stroke-width="0.9" fill="none"/>
<path d="M916.0 541.0L893.0 585.0" stroke="#222" stroke-width="0.9" fill="none"/>
<path d="M909.5 634.0L894.5 619.0" stroke="#222" stroke-width="0.9" fill="none"/>
<path d="M644.5 662.5L621.5 657.0" stroke="#222" stroke-width="0.9" fill="none"/>
<path d="M511.1 581.9L556.3 597.6" stroke="#222" stroke-width="0.9" fill="none"/>
<path d="M514.4 636.3L523.0 629.2" stroke="#222" stroke-width="0.9" fill="none"/>
<path d="M644.5 32.5L619.5 42.5" stroke="#222" stroke-width="0.9" fill="none"/>
<path d="M672.0 46.0L647.0 53.5" stroke="#222" stroke-width="0.9" fill="none"/>
<path d="M697.0 62.5L679.5 82.5" stroke="#222" stroke-width="0.9" fill="none"/>
<path d="M719.5 76.0L709.5 92.5" stroke="#222" stroke-width="0.9" fill="none"/>
<path d="M746.0 91.5L734.5 112.5" stroke="#a9a9a9" stroke-width="0.9" fill="none"/>
<path d="M772.0 105.0L767.0 125.0" stroke="#a9a9a9" stroke-width="0.9" fill="none"/>
<path d="M798.0 120.0L784.5 137.5" stroke="#a9a9a9" stroke-width="0.9" fill="none"/>
<path d="M536.9 54.1L556.2 63.7" stroke="#222" stroke-width="0.9" fill="none"/>
<path d="M536.9 74.0L569.0 87.5" stroke="#222" stroke-width="0.9" fill="none"/>
<path d="M536.9 96.0L560.5 99.0" stroke="#222" stroke-width="0.9" fill="none"/>
<path d="M657.0 177.5L647.0 157.5" stroke="#222" stroke-width="0.9" fill="none"/>
<path d="M802.0 177.5L775.5 192.5" stroke="#222" stroke-width="0.9" fill="none"/>
<path d="M821.0 186.0L782.0 197.5" stroke="#222" stroke-width="0.9" fill="none"/>
<path d="M837.0 196.0L792.0 201.0" stroke="#222" stroke-width="0.9" fill="none"/>
<path d="M735.5 239.0L735.5 218.5" stroke="#222" stroke-width="0.9" fill="none"/>
<path d="M65.0 399.0L125.0 367.5" stroke="#222" stroke-width="0.9" fill="none"/>
<path d="M87.5 415.0L142.5 382.5" stroke="#222" stroke-width="0.9" fill="none"/>
<path d="M110.0 426.5L162.5 395.0" stroke="#222" stroke-width="0.9" fill="none"/>
<path d="M159.0 455.0L207.5 435.0" stroke="#222" stroke-width="0.9" fill="none"/>
<path d="M177.5 471.5L235.0 442.5" stroke="#222" stroke-width="0.9" fill="none"/>
<path d="M210.0 486.5L285.0 452.5" stroke="#222" stroke-width="0.9" fill="none"/>
<path d="M306.0 507.5L314.0 495.0" stroke="#222" stroke-width="0.9" fill="none"/>
<text class="L" x="142.0" y="120.0">653</text>
<text class="L" x="163.5" y="132.5">650</text>
<text class="L" x="187.0" y="146.5">651</text>
<text class="B" x="72.5" y="218.5">654</text>
<text class="B" x="115.0" y="240.5">324</text>
<text class="L" x="139.5" y="260.5">626</text>
<text class="L" x="160.0" y="271.5">619</text>
<text class="L" x="313.0" y="249.5">216</text>
<text class="L" x="341.5" y="266.5">117</text>
<text class="L" x="476.0" y="159.9">324.1</text>
<text class="L" x="499.8" y="174.9">331</text>
<text class="L" x="524.0" y="189.4">332</text>
<text class="L" x="549.5" y="203.4">330</text>
<text class="L" x="597.2" y="232.9">300.2</text>
<text class="L" x="415.5" y="307.7">320</text>
<text class="L" x="446.7" y="325.1">323</text>
<text class="L" x="468.7" y="341.2">322</text>
<text class="L" x="491.8" y="353.0">325</text>
<text class="L" x="549.5" y="368.4">328</text>
<text class="B" x="331.5" y="419.8">324</text>
<text class="B" x="475.5" y="432.4">218</text>
<text class="L" x="459.3" y="496.9">227</text>
<text class="L" x="495.0" y="515.9">226</text>
<text class="B" x="593.6" y="413.2">218</text>
<text class="L" x="678.2" y="407.6">217</text>
<text class="L" x="703.0" y="422.1">211</text>
<text class="B" x="737.0" y="439.2">219</text>
<text class="L" x="529.5" y="532.4">118</text>
<text class="L" x="558.5" y="548.9">212.9</text>
<text class="L" x="798.8" y="472.0">221</text>
<text class="L" x="823.0" y="489.0">222</text>
<text class="B" x="843.0" y="500.9">223</text>
<text class="L" x="885.0" y="523.5">224</text>
<text class="B" x="910.8" y="537.5">218</text>
<text class="L" x="910.8" y="641.3">401</text>
<text class="B" x="651.5" y="670.5">218</text>
<text class="L" x="489.8" y="579.9">510</text>
<text class="L" x="490.2" y="646.2">511</text>
<text class="L" x="643.0" y="30.0">324.1</text>
<text class="L" x="668.5" y="43.5">346</text>
<text class="L" x="693.0" y="60.0">345</text>
<text class="L" x="716.5" y="73.0">340</text>
<text class="G" x="742.0" y="88.2">330</text>
<text class="G" x="766.0" y="101.7">332</text>
<text class="G" x="790.0" y="117.2">331</text>
<text class="L" x="513.0" y="57.5">350</text>
<text class="L" x="513.0" y="77.6">349</text>
<text class="L" x="513.0" y="100.6">348</text>
<text class="L" x="650.0" y="190.0">341</text>
<text class="L" x="802.0" y="178.7">328</text>
<text class="L" x="822.0" y="188.2">343</text>
<text class="L" x="839.5" y="198.7">328</text>
<text class="L" x="726.0" y="251.5">344</text>
<text class="L" x="46.0" y="407.0">331</text>
<text class="L" x="68.0" y="421.0">332</text>
<text class="L" x="90.0" y="434.5">330</text>
<text class="L" x="131.5" y="463.0">324.1</text>
<text class="L" x="157.5" y="479.0">325</text>
<text class="L" x="177.5" y="493.5">300.1</text>
<text class="L" x="296.0" y="520.0">328</text>
</g></svg>
</body></html>
